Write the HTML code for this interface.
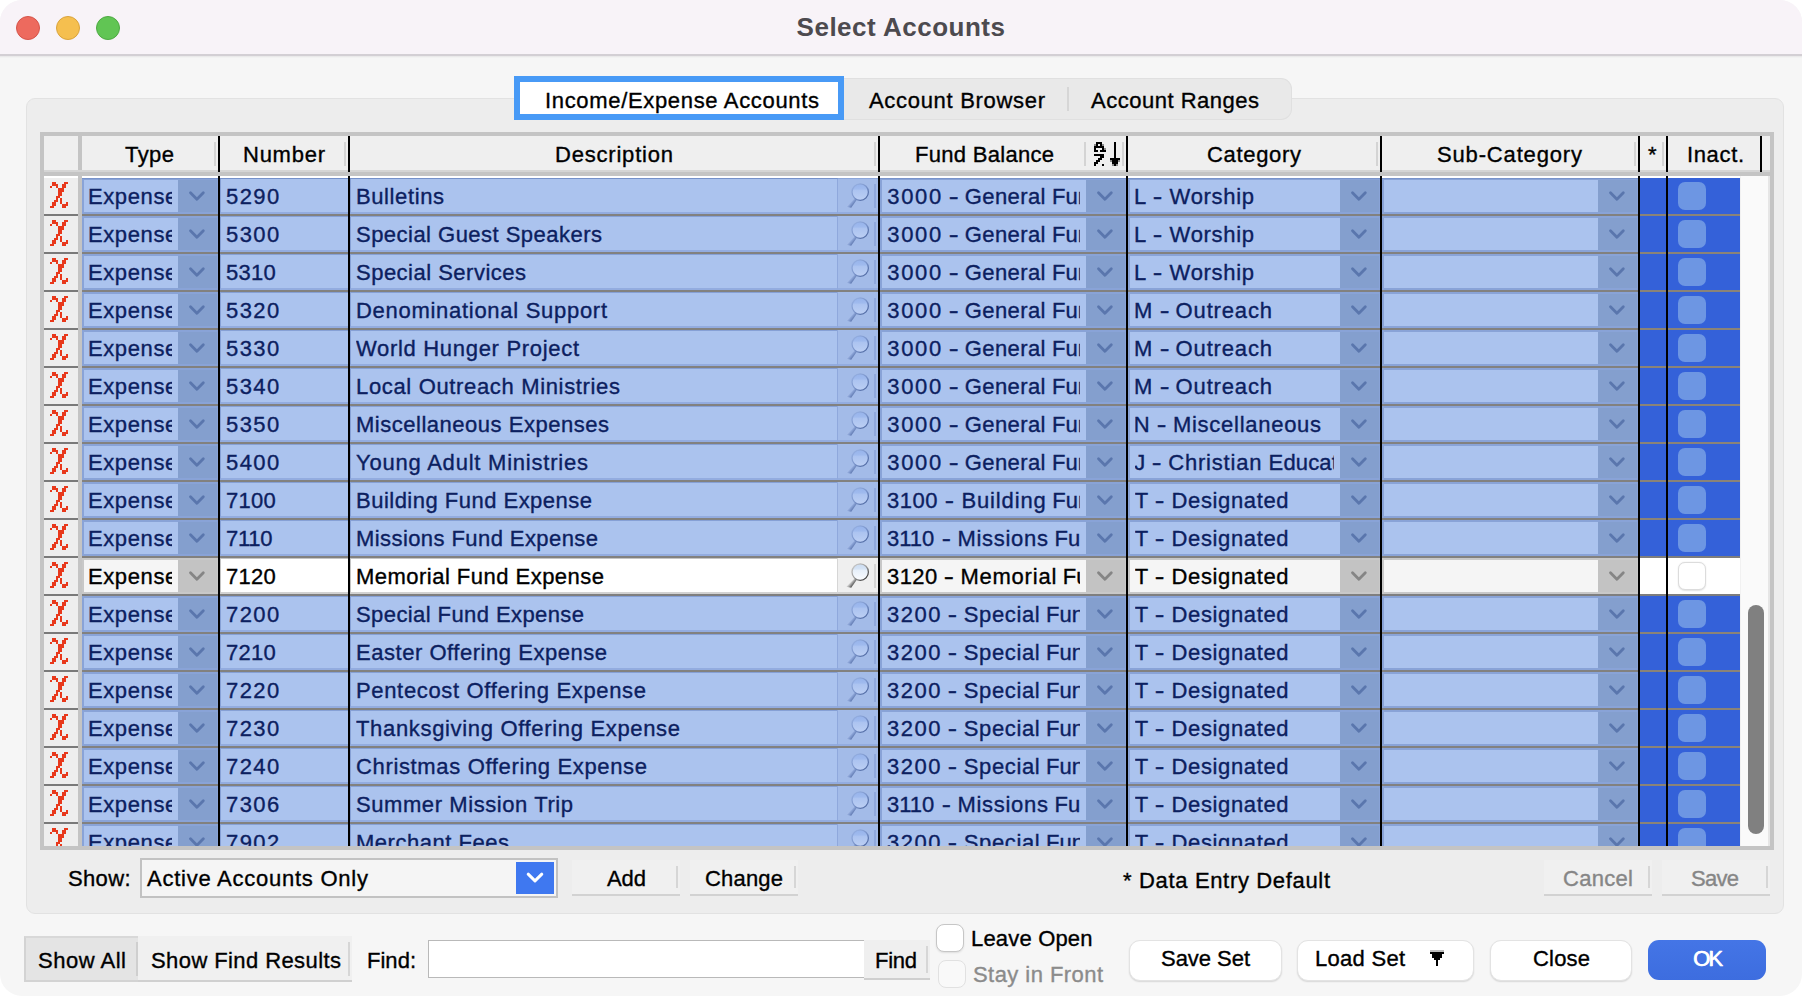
<!DOCTYPE html><html><head><meta charset="utf-8"><title>Select Accounts</title><style>
*{box-sizing:border-box;margin:0;padding:0}
html,body{width:1802px;height:996px;overflow:hidden;background:#fff}
body{font-family:"Liberation Sans",sans-serif;font-size:22px;color:#000;position:relative;-webkit-text-stroke:0.35px}
.abs,.abs *{position:absolute}
#win{position:absolute;left:0;top:0;width:1802px;height:996px;background:#f6f6f6;border-radius:22px;overflow:hidden}
#tb{position:absolute;left:0;top:0;width:1802px;height:54px;background:#f8f3f8}
#tbl{position:absolute;left:0;top:54px;width:1802px;height:2px;background:#d3cfd4}
#tbs{position:absolute;left:0;top:56px;width:1802px;height:2px;background:linear-gradient(#e6e5e6,#f6f6f6)}
.tl{position:absolute;top:16px;width:24px;height:24px;border-radius:50%}
#title{position:absolute;left:0;width:1802px;top:11px;text-align:center;font-weight:bold;font-size:26px;color:#4d4a4f;line-height:32px;letter-spacing:0.5px;-webkit-text-stroke:0}
#grp{position:absolute;left:26px;top:98px;width:1758px;height:816px;background:#ededed;border:1px solid #e2e2e2;border-radius:9px}
.t{position:absolute;white-space:nowrap;line-height:26px;height:26px}
#table{position:absolute;left:40px;top:132px;width:1734px;height:718px;background:#c4c4c4}
#tin{position:absolute;left:4px;top:4px;width:1726px;height:710px;overflow:hidden;background:#fff}
.hd{position:absolute;top:0;height:36px;background:#efefef}
.hdiv{position:absolute;top:6px;width:2px;height:24px;background:#d4d4d4}
.vl{position:absolute;width:2px;background:#000}
.row{position:absolute;left:0;width:1726px;height:38px}
.row>div{position:absolute}
.c{overflow:hidden;white-space:nowrap;line-height:26px;font-size:22px}

.xi{position:absolute;left:6px;top:4px}
.xc{left:0;top:0;width:34px;height:36px;background:#eeeeee}
.ln{left:0;top:36px;height:2px}
</style></head><body>
<div id="win">
<div id="tb"></div><div id="tbl"></div><div id="tbs"></div>
<div class="tl" style="left:16px;background:#ed6a5e;border:1px solid #d5544a"></div>
<div class="tl" style="left:56px;background:#f5bf4f;border:1px solid #d9a33c"></div>
<div class="tl" style="left:96px;background:#61c554;border:1px solid #4ea943"></div>
<div id="title">Select Accounts</div>
<div id="grp"></div>
<div style="position:absolute;left:840px;top:78px;width:452px;height:42px;background:#e9e9e9;border:1px solid #e0e0e0;border-left:none;border-radius:0 11px 11px 0"></div>
<div style="position:absolute;left:1067px;top:87px;width:2px;height:24px;background:#d6d6d6"></div>
<div style="position:absolute;left:514px;top:76px;width:330px;height:44px;background:#fff;border:6px solid #489af6"></div>
<div class="t" style="left:545px;top:88px;letter-spacing:0.67px;">Income/Expense Accounts</div>
<div class="t" style="left:869px;top:88px;letter-spacing:0.693px;">Account Browser</div>
<div class="t" style="left:1091px;top:88px;letter-spacing:0.505px;">Account Ranges</div>
<div id="table"><div id="tin">
<div class="hd" style="left:0;width:34px"></div>
<div class="hd" style="left:38px;width:1688px"></div>
<div style="position:absolute;left:34px;top:0;width:4px;height:710px;background:#c4c4c4"></div>
<div style="position:absolute;left:0;top:34px;width:1726px;height:2px;background:#d5d5d5"></div>
<div style="position:absolute;left:0;top:36px;width:1726px;height:4px;background:#c4c4c4"></div>
<div style="position:absolute;left:1696px;top:40px;width:30px;height:670px;background:#fafafa;border-left:1px solid #f1f1f1;border-right:2px solid #e6e6e6"></div>
<div style="position:absolute;left:1704px;top:469px;width:16px;height:229px;background:#808080;border-radius:8px"></div>
<div class="hdiv" style="left:170px"></div>
<div class="hdiv" style="left:300px"></div>
<div class="hdiv" style="left:830px"></div>
<div class="hdiv" style="left:1040px"></div>
<div class="hdiv" style="left:1078px"></div>
<div class="hdiv" style="left:1332px"></div>
<div class="hdiv" style="left:1590px"></div>
<div class="hdiv" style="left:1618px"></div>
<div class="t" style="left:81px;top:6px;letter-spacing:0.434px;">Type</div>
<div class="t" style="left:199px;top:6px;letter-spacing:0.75px;">Number</div>
<div class="t" style="left:511px;top:6px;letter-spacing:0.795px;">Description</div>
<div class="t" style="left:871px;top:6px;letter-spacing:0.294px;">Fund Balance</div>
<div class="t" style="left:1163px;top:6px;letter-spacing:0.676px;">Category</div>
<div class="t" style="left:1393px;top:6px;letter-spacing:0.842px;">Sub-Category</div>
<div class="t" style="left:1643px;top:6px;letter-spacing:0.638px;">Inact.</div>
<div class="t" style="left:1604px;top:6px;">*</div>
<svg style="position:absolute;left:1050px;top:6px" width="28" height="26" viewBox="0 0 28 26" shape-rendering="crispEdges"><g fill="#000"><rect x="2" y="0" width="2" height="2"/><rect x="4" y="0" width="2" height="2"/><rect x="6" y="0" width="2" height="2"/><rect x="20" y="0" width="2" height="2"/><rect x="0" y="2" width="2" height="2" fill="#8c8c8c"/><rect x="2" y="2" width="2" height="2"/><rect x="6" y="2" width="2" height="2"/><rect x="8" y="2" width="2" height="2" fill="#8c8c8c"/><rect x="20" y="2" width="2" height="2"/><rect x="0" y="4" width="2" height="2"/><rect x="2" y="4" width="2" height="2"/><rect x="4" y="4" width="2" height="2"/><rect x="6" y="4" width="2" height="2"/><rect x="8" y="4" width="2" height="2"/><rect x="20" y="4" width="2" height="2"/><rect x="0" y="6" width="2" height="2"/><rect x="8" y="6" width="2" height="2"/><rect x="10" y="6" width="2" height="2" fill="#8c8c8c"/><rect x="20" y="6" width="2" height="2"/><rect x="0" y="8" width="2" height="2"/><rect x="2" y="8" width="2" height="2"/><rect x="6" y="8" width="2" height="2"/><rect x="8" y="8" width="2" height="2"/><rect x="10" y="8" width="2" height="2"/><rect x="20" y="8" width="2" height="2"/><rect x="20" y="10" width="2" height="2"/><rect x="0" y="12" width="2" height="2"/><rect x="2" y="12" width="2" height="2"/><rect x="4" y="12" width="2" height="2"/><rect x="6" y="12" width="2" height="2"/><rect x="8" y="12" width="2" height="2"/><rect x="20" y="12" width="2" height="2"/><rect x="6" y="14" width="2" height="2"/><rect x="8" y="14" width="2" height="2"/><rect x="20" y="14" width="2" height="2"/><rect x="4" y="16" width="2" height="2"/><rect x="6" y="16" width="2" height="2"/><rect x="16" y="16" width="2" height="2"/><rect x="18" y="16" width="2" height="2"/><rect x="20" y="16" width="2" height="2"/><rect x="22" y="16" width="2" height="2"/><rect x="24" y="16" width="2" height="2"/><rect x="2" y="18" width="2" height="2"/><rect x="4" y="18" width="2" height="2"/><rect x="16" y="18" width="2" height="2" fill="#8c8c8c"/><rect x="18" y="18" width="2" height="2"/><rect x="20" y="18" width="2" height="2"/><rect x="22" y="18" width="2" height="2"/><rect x="24" y="18" width="2" height="2" fill="#8c8c8c"/><rect x="0" y="20" width="2" height="2"/><rect x="2" y="20" width="2" height="2"/><rect x="18" y="20" width="2" height="2"/><rect x="20" y="20" width="2" height="2"/><rect x="22" y="20" width="2" height="2"/><rect x="0" y="22" width="2" height="2"/><rect x="8" y="22" width="2" height="2"/><rect x="18" y="22" width="2" height="2" fill="#8c8c8c"/><rect x="20" y="22" width="2" height="2"/><rect x="22" y="22" width="2" height="2" fill="#8c8c8c"/></g></svg><svg width="0" height="0" style="position:absolute"><defs><linearGradient id="rims" x1="0.15" y1="0.1" x2="0.85" y2="0.9"><stop offset="0" stop-color="#93addf"/><stop offset="0.5" stop-color="#7b95cb"/><stop offset="1" stop-color="#506aa3"/></linearGradient><linearGradient id="lenss" x1="0" y1="0" x2="0" y2="1"><stop offset="0" stop-color="#96b3eb"/><stop offset="0.33" stop-color="#a0bbee"/><stop offset="0.36" stop-color="#abc3f0"/><stop offset="1" stop-color="#bccff4"/></linearGradient><linearGradient id="hnds" x1="0.25" y1="0.3" x2="0.75" y2="0.7"><stop offset="0" stop-color="#cddaf6"/><stop offset="0.45" stop-color="#90a9db"/><stop offset="1" stop-color="#566fa8"/></linearGradient><linearGradient id="rimu" x1="0.15" y1="0.1" x2="0.85" y2="0.9"><stop offset="0" stop-color="#c4c4c4"/><stop offset="0.5" stop-color="#9a9a9a"/><stop offset="1" stop-color="#3c3c3c"/></linearGradient><linearGradient id="lensu" x1="0" y1="0" x2="0" y2="1"><stop offset="0" stop-color="#cbdcf1"/><stop offset="0.33" stop-color="#d6e4f5"/><stop offset="0.36" stop-color="#e6eff9"/><stop offset="1" stop-color="#fbfcfe"/></linearGradient><linearGradient id="hndu" x1="0.25" y1="0.3" x2="0.75" y2="0.7"><stop offset="0" stop-color="#f4f4f4"/><stop offset="0.45" stop-color="#bdbdbd"/><stop offset="1" stop-color="#3a3a3a"/></linearGradient></defs></svg>
<div class="row" style="top:42px"><div class="xc"><svg class="xi" width="18" height="26" viewBox="0 0 18 26" shape-rendering="crispEdges"><g fill="#e8381b"><rect x="2" y="0" width="4" height="2"/><rect x="14" y="0" width="4" height="2"/><rect x="2" y="2" width="6" height="2"/><rect x="12" y="2" width="4" height="2"/><rect x="0" y="4" width="2" height="2"/><rect x="6" y="4" width="2" height="2"/><rect x="12" y="4" width="4" height="2"/><rect x="8" y="6" width="6" height="2"/><rect x="8" y="8" width="6" height="2"/><rect x="8" y="10" width="4" height="2"/><rect x="8" y="12" width="4" height="2"/><rect x="6" y="14" width="4" height="2"/><rect x="6" y="16" width="2" height="2"/><rect x="10" y="16" width="2" height="2"/><rect x="4" y="18" width="4" height="2"/><rect x="10" y="18" width="2" height="2"/><rect x="2" y="20" width="4" height="2"/><rect x="10" y="20" width="2" height="2"/><rect x="16" y="20" width="2" height="2"/><rect x="2" y="22" width="4" height="2"/><rect x="12" y="22" width="6" height="2"/><rect x="0" y="24" width="4" height="2"/><rect x="12" y="24" width="4" height="2"/></g></svg></div><div class="ln" style="width:34px;background:#7a7a7a"></div><div class="ln" style="left:38px;width:1556px;background:#82817f"></div><div style="left:38px;top:0;width:136px;height:36px;background:#89a3d7"><div style="position:absolute;left:96px;top:2px;width:39px;height:32px;background:#849fce"></div><div style="position:absolute;left:2px;top:2px;width:94px;height:32px;background:#abc3ee"></div><div class="c" style="position:absolute;left:6px;top:6px;width:84px;height:26px;color:#0c2060;letter-spacing:0.6px">Expense</div><svg style="position:absolute;left:105px;top:8px" width="20" height="20" viewBox="0 0 20 20"><path d="M3.5 6.8 L9.9 13.3 L16.3 6.8" fill="none" stroke="#5a76ad" stroke-width="2.8" stroke-linecap="round" stroke-linejoin="round"/></svg></div><div style="left:176px;top:0;width:128px;height:36px;background:#abc3ee;border-bottom:2px solid #93acdf;border-top:1px solid #86a0d5;border-left:1px solid #86a0d5"></div><div class="c" style="left:182px;top:6px;width:110px;height:26px;color:#0c2060;letter-spacing:1.419px">5290</div><div style="left:306px;top:0;width:487px;height:36px;background:#abc3ee;border-bottom:2px solid #93acdf;border-top:1px solid #86a0d5;border-left:1px solid #86a0d5"></div><div class="c" style="left:312px;top:6px;width:478px;height:26px;color:#0c2060;letter-spacing:0.605px">Bulletins</div><div style="left:793px;top:0;width:41px;height:36px;background:#a3bbe8;border-left:1px solid #8fa8dc;border-bottom:2px solid #93acdf"><div style="position:absolute;left:36px;top:6px;width:2px;height:24px;background:#8fa8dc"></div><svg style="position:absolute;left:5px;top:2px" width="32" height="32" viewBox="0 0 32 32"><polygon points="12.1,17.9 13.9,19.5 8.2,27.8 3.4,26.8" fill="url(#hnds)"/><circle cx="17.2" cy="12.1" r="8.2" fill="url(#lenss)" stroke="url(#rims)" stroke-width="1.3"/></svg></div><div style="left:836px;top:0;width:246px;height:36px;background:#89a3d7"><div style="position:absolute;left:206px;top:2px;width:39px;height:32px;background:#849fce"></div><div style="position:absolute;left:2px;top:2px;width:204px;height:32px;background:#abc3ee"></div><div class="c" style="position:absolute;left:7px;top:6px;width:193px;height:26px;color:#0c2060;letter-spacing:0px"><span style="position:absolute;left:0.2px;top:0;letter-spacing:1.719px;">3000 </span><span style="position:absolute;left:61.9px;top:0;letter-spacing:0px;transform-origin:0.7px 50%;transform:scaleX(1.350);">- </span><span style="position:absolute;left:77.8px;top:0;letter-spacing:0.405px;">General </span><span style="position:absolute;left:164.9px;top:0;letter-spacing:0.05px;">Fund</span></div><svg style="position:absolute;left:215px;top:8px" width="20" height="20" viewBox="0 0 20 20"><path d="M3.5 6.8 L9.9 13.3 L16.3 6.8" fill="none" stroke="#5a76ad" stroke-width="2.8" stroke-linecap="round" stroke-linejoin="round"/></svg></div><div style="left:1084px;top:0;width:252px;height:36px;background:#89a3d7"><div style="position:absolute;left:212px;top:2px;width:39px;height:32px;background:#849fce"></div><div style="position:absolute;left:2px;top:2px;width:210px;height:32px;background:#abc3ee"></div><div class="c" style="position:absolute;left:7px;top:6px;width:199px;height:26px;color:#0c2060;letter-spacing:0px"><span style="position:absolute;left:-0.9px;top:0;letter-spacing:0px;">L </span><span style="position:absolute;left:18.2px;top:0;letter-spacing:0px;transform-origin:0.7px 50%;transform:scaleX(1.300);">- </span><span style="position:absolute;left:34.6px;top:0;letter-spacing:0.685px;">Worship </span></div><svg style="position:absolute;left:221px;top:8px" width="20" height="20" viewBox="0 0 20 20"><path d="M3.5 6.8 L9.9 13.3 L16.3 6.8" fill="none" stroke="#5a76ad" stroke-width="2.8" stroke-linecap="round" stroke-linejoin="round"/></svg></div><div style="left:1338px;top:0;width:256px;height:36px;background:#89a3d7"><div style="position:absolute;left:216px;top:2px;width:39px;height:32px;background:#849fce"></div><div style="position:absolute;left:2px;top:2px;width:214px;height:32px;background:#abc3ee"></div><svg style="position:absolute;left:225px;top:8px" width="20" height="20" viewBox="0 0 20 20"><path d="M3.5 6.8 L9.9 13.3 L16.3 6.8" fill="none" stroke="#5a76ad" stroke-width="2.8" stroke-linecap="round" stroke-linejoin="round"/></svg></div><div style="left:1596px;top:0;width:26px;height:36px;background:#3461d9"></div><div style="left:1624px;top:0;width:72px;height:36px;background:#3461d9"><div style="position:absolute;left:10px;top:4px;width:28px;height:28px;border-radius:7px;background:#6d96e3"></div></div><div class="ln" style="left:1596px;width:100px;background:#8a8378"></div></div>
<div class="row" style="top:80px"><div class="xc"><svg class="xi" width="18" height="26" viewBox="0 0 18 26" shape-rendering="crispEdges"><g fill="#e8381b"><rect x="2" y="0" width="4" height="2"/><rect x="14" y="0" width="4" height="2"/><rect x="2" y="2" width="6" height="2"/><rect x="12" y="2" width="4" height="2"/><rect x="0" y="4" width="2" height="2"/><rect x="6" y="4" width="2" height="2"/><rect x="12" y="4" width="4" height="2"/><rect x="8" y="6" width="6" height="2"/><rect x="8" y="8" width="6" height="2"/><rect x="8" y="10" width="4" height="2"/><rect x="8" y="12" width="4" height="2"/><rect x="6" y="14" width="4" height="2"/><rect x="6" y="16" width="2" height="2"/><rect x="10" y="16" width="2" height="2"/><rect x="4" y="18" width="4" height="2"/><rect x="10" y="18" width="2" height="2"/><rect x="2" y="20" width="4" height="2"/><rect x="10" y="20" width="2" height="2"/><rect x="16" y="20" width="2" height="2"/><rect x="2" y="22" width="4" height="2"/><rect x="12" y="22" width="6" height="2"/><rect x="0" y="24" width="4" height="2"/><rect x="12" y="24" width="4" height="2"/></g></svg></div><div class="ln" style="width:34px;background:#7a7a7a"></div><div class="ln" style="left:38px;width:1556px;background:#82817f"></div><div style="left:38px;top:0;width:136px;height:36px;background:#89a3d7"><div style="position:absolute;left:96px;top:2px;width:39px;height:32px;background:#849fce"></div><div style="position:absolute;left:2px;top:2px;width:94px;height:32px;background:#abc3ee"></div><div class="c" style="position:absolute;left:6px;top:6px;width:84px;height:26px;color:#0c2060;letter-spacing:0.6px">Expense</div><svg style="position:absolute;left:105px;top:8px" width="20" height="20" viewBox="0 0 20 20"><path d="M3.5 6.8 L9.9 13.3 L16.3 6.8" fill="none" stroke="#5a76ad" stroke-width="2.8" stroke-linecap="round" stroke-linejoin="round"/></svg></div><div style="left:176px;top:0;width:128px;height:36px;background:#abc3ee;border-bottom:2px solid #93acdf;border-top:1px solid #86a0d5;border-left:1px solid #86a0d5"></div><div class="c" style="left:182px;top:6px;width:110px;height:26px;color:#0c2060;letter-spacing:1.419px">5300</div><div style="left:306px;top:0;width:487px;height:36px;background:#abc3ee;border-bottom:2px solid #93acdf;border-top:1px solid #86a0d5;border-left:1px solid #86a0d5"></div><div class="c" style="left:312px;top:6px;width:478px;height:26px;color:#0c2060;letter-spacing:0.475px">Special Guest Speakers</div><div style="left:793px;top:0;width:41px;height:36px;background:#a3bbe8;border-left:1px solid #8fa8dc;border-bottom:2px solid #93acdf"><div style="position:absolute;left:36px;top:6px;width:2px;height:24px;background:#8fa8dc"></div><svg style="position:absolute;left:5px;top:2px" width="32" height="32" viewBox="0 0 32 32"><polygon points="12.1,17.9 13.9,19.5 8.2,27.8 3.4,26.8" fill="url(#hnds)"/><circle cx="17.2" cy="12.1" r="8.2" fill="url(#lenss)" stroke="url(#rims)" stroke-width="1.3"/></svg></div><div style="left:836px;top:0;width:246px;height:36px;background:#89a3d7"><div style="position:absolute;left:206px;top:2px;width:39px;height:32px;background:#849fce"></div><div style="position:absolute;left:2px;top:2px;width:204px;height:32px;background:#abc3ee"></div><div class="c" style="position:absolute;left:7px;top:6px;width:193px;height:26px;color:#0c2060;letter-spacing:0px"><span style="position:absolute;left:0.2px;top:0;letter-spacing:1.719px;">3000 </span><span style="position:absolute;left:61.9px;top:0;letter-spacing:0px;transform-origin:0.7px 50%;transform:scaleX(1.350);">- </span><span style="position:absolute;left:77.8px;top:0;letter-spacing:0.405px;">General </span><span style="position:absolute;left:164.9px;top:0;letter-spacing:0.05px;">Fund</span></div><svg style="position:absolute;left:215px;top:8px" width="20" height="20" viewBox="0 0 20 20"><path d="M3.5 6.8 L9.9 13.3 L16.3 6.8" fill="none" stroke="#5a76ad" stroke-width="2.8" stroke-linecap="round" stroke-linejoin="round"/></svg></div><div style="left:1084px;top:0;width:252px;height:36px;background:#89a3d7"><div style="position:absolute;left:212px;top:2px;width:39px;height:32px;background:#849fce"></div><div style="position:absolute;left:2px;top:2px;width:210px;height:32px;background:#abc3ee"></div><div class="c" style="position:absolute;left:7px;top:6px;width:199px;height:26px;color:#0c2060;letter-spacing:0px"><span style="position:absolute;left:-0.9px;top:0;letter-spacing:0px;">L </span><span style="position:absolute;left:18.2px;top:0;letter-spacing:0px;transform-origin:0.7px 50%;transform:scaleX(1.300);">- </span><span style="position:absolute;left:34.6px;top:0;letter-spacing:0.685px;">Worship </span></div><svg style="position:absolute;left:221px;top:8px" width="20" height="20" viewBox="0 0 20 20"><path d="M3.5 6.8 L9.9 13.3 L16.3 6.8" fill="none" stroke="#5a76ad" stroke-width="2.8" stroke-linecap="round" stroke-linejoin="round"/></svg></div><div style="left:1338px;top:0;width:256px;height:36px;background:#89a3d7"><div style="position:absolute;left:216px;top:2px;width:39px;height:32px;background:#849fce"></div><div style="position:absolute;left:2px;top:2px;width:214px;height:32px;background:#abc3ee"></div><svg style="position:absolute;left:225px;top:8px" width="20" height="20" viewBox="0 0 20 20"><path d="M3.5 6.8 L9.9 13.3 L16.3 6.8" fill="none" stroke="#5a76ad" stroke-width="2.8" stroke-linecap="round" stroke-linejoin="round"/></svg></div><div style="left:1596px;top:0;width:26px;height:36px;background:#3461d9"></div><div style="left:1624px;top:0;width:72px;height:36px;background:#3461d9"><div style="position:absolute;left:10px;top:4px;width:28px;height:28px;border-radius:7px;background:#6d96e3"></div></div><div class="ln" style="left:1596px;width:100px;background:#8a8378"></div></div>
<div class="row" style="top:118px"><div class="xc"><svg class="xi" width="18" height="26" viewBox="0 0 18 26" shape-rendering="crispEdges"><g fill="#e8381b"><rect x="2" y="0" width="4" height="2"/><rect x="14" y="0" width="4" height="2"/><rect x="2" y="2" width="6" height="2"/><rect x="12" y="2" width="4" height="2"/><rect x="0" y="4" width="2" height="2"/><rect x="6" y="4" width="2" height="2"/><rect x="12" y="4" width="4" height="2"/><rect x="8" y="6" width="6" height="2"/><rect x="8" y="8" width="6" height="2"/><rect x="8" y="10" width="4" height="2"/><rect x="8" y="12" width="4" height="2"/><rect x="6" y="14" width="4" height="2"/><rect x="6" y="16" width="2" height="2"/><rect x="10" y="16" width="2" height="2"/><rect x="4" y="18" width="4" height="2"/><rect x="10" y="18" width="2" height="2"/><rect x="2" y="20" width="4" height="2"/><rect x="10" y="20" width="2" height="2"/><rect x="16" y="20" width="2" height="2"/><rect x="2" y="22" width="4" height="2"/><rect x="12" y="22" width="6" height="2"/><rect x="0" y="24" width="4" height="2"/><rect x="12" y="24" width="4" height="2"/></g></svg></div><div class="ln" style="width:34px;background:#7a7a7a"></div><div class="ln" style="left:38px;width:1556px;background:#82817f"></div><div style="left:38px;top:0;width:136px;height:36px;background:#89a3d7"><div style="position:absolute;left:96px;top:2px;width:39px;height:32px;background:#849fce"></div><div style="position:absolute;left:2px;top:2px;width:94px;height:32px;background:#abc3ee"></div><div class="c" style="position:absolute;left:6px;top:6px;width:84px;height:26px;color:#0c2060;letter-spacing:0.6px">Expense</div><svg style="position:absolute;left:105px;top:8px" width="20" height="20" viewBox="0 0 20 20"><path d="M3.5 6.8 L9.9 13.3 L16.3 6.8" fill="none" stroke="#5a76ad" stroke-width="2.8" stroke-linecap="round" stroke-linejoin="round"/></svg></div><div style="left:176px;top:0;width:128px;height:36px;background:#abc3ee;border-bottom:2px solid #93acdf;border-top:1px solid #86a0d5;border-left:1px solid #86a0d5"></div><div class="c" style="left:182px;top:6px;width:110px;height:26px;color:#0c2060;letter-spacing:0.285px">5310</div><div style="left:306px;top:0;width:487px;height:36px;background:#abc3ee;border-bottom:2px solid #93acdf;border-top:1px solid #86a0d5;border-left:1px solid #86a0d5"></div><div class="c" style="left:312px;top:6px;width:478px;height:26px;color:#0c2060;letter-spacing:0.491px">Special Services</div><div style="left:793px;top:0;width:41px;height:36px;background:#a3bbe8;border-left:1px solid #8fa8dc;border-bottom:2px solid #93acdf"><div style="position:absolute;left:36px;top:6px;width:2px;height:24px;background:#8fa8dc"></div><svg style="position:absolute;left:5px;top:2px" width="32" height="32" viewBox="0 0 32 32"><polygon points="12.1,17.9 13.9,19.5 8.2,27.8 3.4,26.8" fill="url(#hnds)"/><circle cx="17.2" cy="12.1" r="8.2" fill="url(#lenss)" stroke="url(#rims)" stroke-width="1.3"/></svg></div><div style="left:836px;top:0;width:246px;height:36px;background:#89a3d7"><div style="position:absolute;left:206px;top:2px;width:39px;height:32px;background:#849fce"></div><div style="position:absolute;left:2px;top:2px;width:204px;height:32px;background:#abc3ee"></div><div class="c" style="position:absolute;left:7px;top:6px;width:193px;height:26px;color:#0c2060;letter-spacing:0px"><span style="position:absolute;left:0.2px;top:0;letter-spacing:1.719px;">3000 </span><span style="position:absolute;left:61.9px;top:0;letter-spacing:0px;transform-origin:0.7px 50%;transform:scaleX(1.350);">- </span><span style="position:absolute;left:77.8px;top:0;letter-spacing:0.405px;">General </span><span style="position:absolute;left:164.9px;top:0;letter-spacing:0.05px;">Fund</span></div><svg style="position:absolute;left:215px;top:8px" width="20" height="20" viewBox="0 0 20 20"><path d="M3.5 6.8 L9.9 13.3 L16.3 6.8" fill="none" stroke="#5a76ad" stroke-width="2.8" stroke-linecap="round" stroke-linejoin="round"/></svg></div><div style="left:1084px;top:0;width:252px;height:36px;background:#89a3d7"><div style="position:absolute;left:212px;top:2px;width:39px;height:32px;background:#849fce"></div><div style="position:absolute;left:2px;top:2px;width:210px;height:32px;background:#abc3ee"></div><div class="c" style="position:absolute;left:7px;top:6px;width:199px;height:26px;color:#0c2060;letter-spacing:0px"><span style="position:absolute;left:-0.9px;top:0;letter-spacing:0px;">L </span><span style="position:absolute;left:18.2px;top:0;letter-spacing:0px;transform-origin:0.7px 50%;transform:scaleX(1.300);">- </span><span style="position:absolute;left:34.6px;top:0;letter-spacing:0.685px;">Worship </span></div><svg style="position:absolute;left:221px;top:8px" width="20" height="20" viewBox="0 0 20 20"><path d="M3.5 6.8 L9.9 13.3 L16.3 6.8" fill="none" stroke="#5a76ad" stroke-width="2.8" stroke-linecap="round" stroke-linejoin="round"/></svg></div><div style="left:1338px;top:0;width:256px;height:36px;background:#89a3d7"><div style="position:absolute;left:216px;top:2px;width:39px;height:32px;background:#849fce"></div><div style="position:absolute;left:2px;top:2px;width:214px;height:32px;background:#abc3ee"></div><svg style="position:absolute;left:225px;top:8px" width="20" height="20" viewBox="0 0 20 20"><path d="M3.5 6.8 L9.9 13.3 L16.3 6.8" fill="none" stroke="#5a76ad" stroke-width="2.8" stroke-linecap="round" stroke-linejoin="round"/></svg></div><div style="left:1596px;top:0;width:26px;height:36px;background:#3461d9"></div><div style="left:1624px;top:0;width:72px;height:36px;background:#3461d9"><div style="position:absolute;left:10px;top:4px;width:28px;height:28px;border-radius:7px;background:#6d96e3"></div></div><div class="ln" style="left:1596px;width:100px;background:#8a8378"></div></div>
<div class="row" style="top:156px"><div class="xc"><svg class="xi" width="18" height="26" viewBox="0 0 18 26" shape-rendering="crispEdges"><g fill="#e8381b"><rect x="2" y="0" width="4" height="2"/><rect x="14" y="0" width="4" height="2"/><rect x="2" y="2" width="6" height="2"/><rect x="12" y="2" width="4" height="2"/><rect x="0" y="4" width="2" height="2"/><rect x="6" y="4" width="2" height="2"/><rect x="12" y="4" width="4" height="2"/><rect x="8" y="6" width="6" height="2"/><rect x="8" y="8" width="6" height="2"/><rect x="8" y="10" width="4" height="2"/><rect x="8" y="12" width="4" height="2"/><rect x="6" y="14" width="4" height="2"/><rect x="6" y="16" width="2" height="2"/><rect x="10" y="16" width="2" height="2"/><rect x="4" y="18" width="4" height="2"/><rect x="10" y="18" width="2" height="2"/><rect x="2" y="20" width="4" height="2"/><rect x="10" y="20" width="2" height="2"/><rect x="16" y="20" width="2" height="2"/><rect x="2" y="22" width="4" height="2"/><rect x="12" y="22" width="6" height="2"/><rect x="0" y="24" width="4" height="2"/><rect x="12" y="24" width="4" height="2"/></g></svg></div><div class="ln" style="width:34px;background:#7a7a7a"></div><div class="ln" style="left:38px;width:1556px;background:#82817f"></div><div style="left:38px;top:0;width:136px;height:36px;background:#89a3d7"><div style="position:absolute;left:96px;top:2px;width:39px;height:32px;background:#849fce"></div><div style="position:absolute;left:2px;top:2px;width:94px;height:32px;background:#abc3ee"></div><div class="c" style="position:absolute;left:6px;top:6px;width:84px;height:26px;color:#0c2060;letter-spacing:0.6px">Expense</div><svg style="position:absolute;left:105px;top:8px" width="20" height="20" viewBox="0 0 20 20"><path d="M3.5 6.8 L9.9 13.3 L16.3 6.8" fill="none" stroke="#5a76ad" stroke-width="2.8" stroke-linecap="round" stroke-linejoin="round"/></svg></div><div style="left:176px;top:0;width:128px;height:36px;background:#abc3ee;border-bottom:2px solid #93acdf;border-top:1px solid #86a0d5;border-left:1px solid #86a0d5"></div><div class="c" style="left:182px;top:6px;width:110px;height:26px;color:#0c2060;letter-spacing:1.419px">5320</div><div style="left:306px;top:0;width:487px;height:36px;background:#abc3ee;border-bottom:2px solid #93acdf;border-top:1px solid #86a0d5;border-left:1px solid #86a0d5"></div><div class="c" style="left:312px;top:6px;width:478px;height:26px;color:#0c2060;letter-spacing:0.712px">Denominational Support</div><div style="left:793px;top:0;width:41px;height:36px;background:#a3bbe8;border-left:1px solid #8fa8dc;border-bottom:2px solid #93acdf"><div style="position:absolute;left:36px;top:6px;width:2px;height:24px;background:#8fa8dc"></div><svg style="position:absolute;left:5px;top:2px" width="32" height="32" viewBox="0 0 32 32"><polygon points="12.1,17.9 13.9,19.5 8.2,27.8 3.4,26.8" fill="url(#hnds)"/><circle cx="17.2" cy="12.1" r="8.2" fill="url(#lenss)" stroke="url(#rims)" stroke-width="1.3"/></svg></div><div style="left:836px;top:0;width:246px;height:36px;background:#89a3d7"><div style="position:absolute;left:206px;top:2px;width:39px;height:32px;background:#849fce"></div><div style="position:absolute;left:2px;top:2px;width:204px;height:32px;background:#abc3ee"></div><div class="c" style="position:absolute;left:7px;top:6px;width:193px;height:26px;color:#0c2060;letter-spacing:0px"><span style="position:absolute;left:0.2px;top:0;letter-spacing:1.719px;">3000 </span><span style="position:absolute;left:61.9px;top:0;letter-spacing:0px;transform-origin:0.7px 50%;transform:scaleX(1.350);">- </span><span style="position:absolute;left:77.8px;top:0;letter-spacing:0.405px;">General </span><span style="position:absolute;left:164.9px;top:0;letter-spacing:0.05px;">Fund</span></div><svg style="position:absolute;left:215px;top:8px" width="20" height="20" viewBox="0 0 20 20"><path d="M3.5 6.8 L9.9 13.3 L16.3 6.8" fill="none" stroke="#5a76ad" stroke-width="2.8" stroke-linecap="round" stroke-linejoin="round"/></svg></div><div style="left:1084px;top:0;width:252px;height:36px;background:#89a3d7"><div style="position:absolute;left:212px;top:2px;width:39px;height:32px;background:#849fce"></div><div style="position:absolute;left:2px;top:2px;width:210px;height:32px;background:#abc3ee"></div><div class="c" style="position:absolute;left:7px;top:6px;width:199px;height:26px;color:#0c2060;letter-spacing:0px"><span style="position:absolute;left:-0.9px;top:0;letter-spacing:0px;">M </span><span style="position:absolute;left:24.6px;top:0;letter-spacing:0px;transform-origin:0.7px 50%;transform:scaleX(1.333);">- </span><span style="position:absolute;left:40.6px;top:0;letter-spacing:0.844px;">Outreach </span></div><svg style="position:absolute;left:221px;top:8px" width="20" height="20" viewBox="0 0 20 20"><path d="M3.5 6.8 L9.9 13.3 L16.3 6.8" fill="none" stroke="#5a76ad" stroke-width="2.8" stroke-linecap="round" stroke-linejoin="round"/></svg></div><div style="left:1338px;top:0;width:256px;height:36px;background:#89a3d7"><div style="position:absolute;left:216px;top:2px;width:39px;height:32px;background:#849fce"></div><div style="position:absolute;left:2px;top:2px;width:214px;height:32px;background:#abc3ee"></div><svg style="position:absolute;left:225px;top:8px" width="20" height="20" viewBox="0 0 20 20"><path d="M3.5 6.8 L9.9 13.3 L16.3 6.8" fill="none" stroke="#5a76ad" stroke-width="2.8" stroke-linecap="round" stroke-linejoin="round"/></svg></div><div style="left:1596px;top:0;width:26px;height:36px;background:#3461d9"></div><div style="left:1624px;top:0;width:72px;height:36px;background:#3461d9"><div style="position:absolute;left:10px;top:4px;width:28px;height:28px;border-radius:7px;background:#6d96e3"></div></div><div class="ln" style="left:1596px;width:100px;background:#8a8378"></div></div>
<div class="row" style="top:194px"><div class="xc"><svg class="xi" width="18" height="26" viewBox="0 0 18 26" shape-rendering="crispEdges"><g fill="#e8381b"><rect x="2" y="0" width="4" height="2"/><rect x="14" y="0" width="4" height="2"/><rect x="2" y="2" width="6" height="2"/><rect x="12" y="2" width="4" height="2"/><rect x="0" y="4" width="2" height="2"/><rect x="6" y="4" width="2" height="2"/><rect x="12" y="4" width="4" height="2"/><rect x="8" y="6" width="6" height="2"/><rect x="8" y="8" width="6" height="2"/><rect x="8" y="10" width="4" height="2"/><rect x="8" y="12" width="4" height="2"/><rect x="6" y="14" width="4" height="2"/><rect x="6" y="16" width="2" height="2"/><rect x="10" y="16" width="2" height="2"/><rect x="4" y="18" width="4" height="2"/><rect x="10" y="18" width="2" height="2"/><rect x="2" y="20" width="4" height="2"/><rect x="10" y="20" width="2" height="2"/><rect x="16" y="20" width="2" height="2"/><rect x="2" y="22" width="4" height="2"/><rect x="12" y="22" width="6" height="2"/><rect x="0" y="24" width="4" height="2"/><rect x="12" y="24" width="4" height="2"/></g></svg></div><div class="ln" style="width:34px;background:#7a7a7a"></div><div class="ln" style="left:38px;width:1556px;background:#82817f"></div><div style="left:38px;top:0;width:136px;height:36px;background:#89a3d7"><div style="position:absolute;left:96px;top:2px;width:39px;height:32px;background:#849fce"></div><div style="position:absolute;left:2px;top:2px;width:94px;height:32px;background:#abc3ee"></div><div class="c" style="position:absolute;left:6px;top:6px;width:84px;height:26px;color:#0c2060;letter-spacing:0.6px">Expense</div><svg style="position:absolute;left:105px;top:8px" width="20" height="20" viewBox="0 0 20 20"><path d="M3.5 6.8 L9.9 13.3 L16.3 6.8" fill="none" stroke="#5a76ad" stroke-width="2.8" stroke-linecap="round" stroke-linejoin="round"/></svg></div><div style="left:176px;top:0;width:128px;height:36px;background:#abc3ee;border-bottom:2px solid #93acdf;border-top:1px solid #86a0d5;border-left:1px solid #86a0d5"></div><div class="c" style="left:182px;top:6px;width:110px;height:26px;color:#0c2060;letter-spacing:1.419px">5330</div><div style="left:306px;top:0;width:487px;height:36px;background:#abc3ee;border-bottom:2px solid #93acdf;border-top:1px solid #86a0d5;border-left:1px solid #86a0d5"></div><div class="c" style="left:312px;top:6px;width:478px;height:26px;color:#0c2060;letter-spacing:0.689px">World Hunger Project</div><div style="left:793px;top:0;width:41px;height:36px;background:#a3bbe8;border-left:1px solid #8fa8dc;border-bottom:2px solid #93acdf"><div style="position:absolute;left:36px;top:6px;width:2px;height:24px;background:#8fa8dc"></div><svg style="position:absolute;left:5px;top:2px" width="32" height="32" viewBox="0 0 32 32"><polygon points="12.1,17.9 13.9,19.5 8.2,27.8 3.4,26.8" fill="url(#hnds)"/><circle cx="17.2" cy="12.1" r="8.2" fill="url(#lenss)" stroke="url(#rims)" stroke-width="1.3"/></svg></div><div style="left:836px;top:0;width:246px;height:36px;background:#89a3d7"><div style="position:absolute;left:206px;top:2px;width:39px;height:32px;background:#849fce"></div><div style="position:absolute;left:2px;top:2px;width:204px;height:32px;background:#abc3ee"></div><div class="c" style="position:absolute;left:7px;top:6px;width:193px;height:26px;color:#0c2060;letter-spacing:0px"><span style="position:absolute;left:0.2px;top:0;letter-spacing:1.719px;">3000 </span><span style="position:absolute;left:61.9px;top:0;letter-spacing:0px;transform-origin:0.7px 50%;transform:scaleX(1.350);">- </span><span style="position:absolute;left:77.8px;top:0;letter-spacing:0.405px;">General </span><span style="position:absolute;left:164.9px;top:0;letter-spacing:0.05px;">Fund</span></div><svg style="position:absolute;left:215px;top:8px" width="20" height="20" viewBox="0 0 20 20"><path d="M3.5 6.8 L9.9 13.3 L16.3 6.8" fill="none" stroke="#5a76ad" stroke-width="2.8" stroke-linecap="round" stroke-linejoin="round"/></svg></div><div style="left:1084px;top:0;width:252px;height:36px;background:#89a3d7"><div style="position:absolute;left:212px;top:2px;width:39px;height:32px;background:#849fce"></div><div style="position:absolute;left:2px;top:2px;width:210px;height:32px;background:#abc3ee"></div><div class="c" style="position:absolute;left:7px;top:6px;width:199px;height:26px;color:#0c2060;letter-spacing:0px"><span style="position:absolute;left:-0.9px;top:0;letter-spacing:0px;">M </span><span style="position:absolute;left:24.6px;top:0;letter-spacing:0px;transform-origin:0.7px 50%;transform:scaleX(1.333);">- </span><span style="position:absolute;left:40.6px;top:0;letter-spacing:0.844px;">Outreach </span></div><svg style="position:absolute;left:221px;top:8px" width="20" height="20" viewBox="0 0 20 20"><path d="M3.5 6.8 L9.9 13.3 L16.3 6.8" fill="none" stroke="#5a76ad" stroke-width="2.8" stroke-linecap="round" stroke-linejoin="round"/></svg></div><div style="left:1338px;top:0;width:256px;height:36px;background:#89a3d7"><div style="position:absolute;left:216px;top:2px;width:39px;height:32px;background:#849fce"></div><div style="position:absolute;left:2px;top:2px;width:214px;height:32px;background:#abc3ee"></div><svg style="position:absolute;left:225px;top:8px" width="20" height="20" viewBox="0 0 20 20"><path d="M3.5 6.8 L9.9 13.3 L16.3 6.8" fill="none" stroke="#5a76ad" stroke-width="2.8" stroke-linecap="round" stroke-linejoin="round"/></svg></div><div style="left:1596px;top:0;width:26px;height:36px;background:#3461d9"></div><div style="left:1624px;top:0;width:72px;height:36px;background:#3461d9"><div style="position:absolute;left:10px;top:4px;width:28px;height:28px;border-radius:7px;background:#6d96e3"></div></div><div class="ln" style="left:1596px;width:100px;background:#8a8378"></div></div>
<div class="row" style="top:232px"><div class="xc"><svg class="xi" width="18" height="26" viewBox="0 0 18 26" shape-rendering="crispEdges"><g fill="#e8381b"><rect x="2" y="0" width="4" height="2"/><rect x="14" y="0" width="4" height="2"/><rect x="2" y="2" width="6" height="2"/><rect x="12" y="2" width="4" height="2"/><rect x="0" y="4" width="2" height="2"/><rect x="6" y="4" width="2" height="2"/><rect x="12" y="4" width="4" height="2"/><rect x="8" y="6" width="6" height="2"/><rect x="8" y="8" width="6" height="2"/><rect x="8" y="10" width="4" height="2"/><rect x="8" y="12" width="4" height="2"/><rect x="6" y="14" width="4" height="2"/><rect x="6" y="16" width="2" height="2"/><rect x="10" y="16" width="2" height="2"/><rect x="4" y="18" width="4" height="2"/><rect x="10" y="18" width="2" height="2"/><rect x="2" y="20" width="4" height="2"/><rect x="10" y="20" width="2" height="2"/><rect x="16" y="20" width="2" height="2"/><rect x="2" y="22" width="4" height="2"/><rect x="12" y="22" width="6" height="2"/><rect x="0" y="24" width="4" height="2"/><rect x="12" y="24" width="4" height="2"/></g></svg></div><div class="ln" style="width:34px;background:#7a7a7a"></div><div class="ln" style="left:38px;width:1556px;background:#82817f"></div><div style="left:38px;top:0;width:136px;height:36px;background:#89a3d7"><div style="position:absolute;left:96px;top:2px;width:39px;height:32px;background:#849fce"></div><div style="position:absolute;left:2px;top:2px;width:94px;height:32px;background:#abc3ee"></div><div class="c" style="position:absolute;left:6px;top:6px;width:84px;height:26px;color:#0c2060;letter-spacing:0.6px">Expense</div><svg style="position:absolute;left:105px;top:8px" width="20" height="20" viewBox="0 0 20 20"><path d="M3.5 6.8 L9.9 13.3 L16.3 6.8" fill="none" stroke="#5a76ad" stroke-width="2.8" stroke-linecap="round" stroke-linejoin="round"/></svg></div><div style="left:176px;top:0;width:128px;height:36px;background:#abc3ee;border-bottom:2px solid #93acdf;border-top:1px solid #86a0d5;border-left:1px solid #86a0d5"></div><div class="c" style="left:182px;top:6px;width:110px;height:26px;color:#0c2060;letter-spacing:1.419px">5340</div><div style="left:306px;top:0;width:487px;height:36px;background:#abc3ee;border-bottom:2px solid #93acdf;border-top:1px solid #86a0d5;border-left:1px solid #86a0d5"></div><div class="c" style="left:312px;top:6px;width:478px;height:26px;color:#0c2060;letter-spacing:0.658px">Local Outreach Ministries</div><div style="left:793px;top:0;width:41px;height:36px;background:#a3bbe8;border-left:1px solid #8fa8dc;border-bottom:2px solid #93acdf"><div style="position:absolute;left:36px;top:6px;width:2px;height:24px;background:#8fa8dc"></div><svg style="position:absolute;left:5px;top:2px" width="32" height="32" viewBox="0 0 32 32"><polygon points="12.1,17.9 13.9,19.5 8.2,27.8 3.4,26.8" fill="url(#hnds)"/><circle cx="17.2" cy="12.1" r="8.2" fill="url(#lenss)" stroke="url(#rims)" stroke-width="1.3"/></svg></div><div style="left:836px;top:0;width:246px;height:36px;background:#89a3d7"><div style="position:absolute;left:206px;top:2px;width:39px;height:32px;background:#849fce"></div><div style="position:absolute;left:2px;top:2px;width:204px;height:32px;background:#abc3ee"></div><div class="c" style="position:absolute;left:7px;top:6px;width:193px;height:26px;color:#0c2060;letter-spacing:0px"><span style="position:absolute;left:0.2px;top:0;letter-spacing:1.719px;">3000 </span><span style="position:absolute;left:61.9px;top:0;letter-spacing:0px;transform-origin:0.7px 50%;transform:scaleX(1.350);">- </span><span style="position:absolute;left:77.8px;top:0;letter-spacing:0.405px;">General </span><span style="position:absolute;left:164.9px;top:0;letter-spacing:0.05px;">Fund</span></div><svg style="position:absolute;left:215px;top:8px" width="20" height="20" viewBox="0 0 20 20"><path d="M3.5 6.8 L9.9 13.3 L16.3 6.8" fill="none" stroke="#5a76ad" stroke-width="2.8" stroke-linecap="round" stroke-linejoin="round"/></svg></div><div style="left:1084px;top:0;width:252px;height:36px;background:#89a3d7"><div style="position:absolute;left:212px;top:2px;width:39px;height:32px;background:#849fce"></div><div style="position:absolute;left:2px;top:2px;width:210px;height:32px;background:#abc3ee"></div><div class="c" style="position:absolute;left:7px;top:6px;width:199px;height:26px;color:#0c2060;letter-spacing:0px"><span style="position:absolute;left:-0.9px;top:0;letter-spacing:0px;">M </span><span style="position:absolute;left:24.6px;top:0;letter-spacing:0px;transform-origin:0.7px 50%;transform:scaleX(1.333);">- </span><span style="position:absolute;left:40.6px;top:0;letter-spacing:0.844px;">Outreach </span></div><svg style="position:absolute;left:221px;top:8px" width="20" height="20" viewBox="0 0 20 20"><path d="M3.5 6.8 L9.9 13.3 L16.3 6.8" fill="none" stroke="#5a76ad" stroke-width="2.8" stroke-linecap="round" stroke-linejoin="round"/></svg></div><div style="left:1338px;top:0;width:256px;height:36px;background:#89a3d7"><div style="position:absolute;left:216px;top:2px;width:39px;height:32px;background:#849fce"></div><div style="position:absolute;left:2px;top:2px;width:214px;height:32px;background:#abc3ee"></div><svg style="position:absolute;left:225px;top:8px" width="20" height="20" viewBox="0 0 20 20"><path d="M3.5 6.8 L9.9 13.3 L16.3 6.8" fill="none" stroke="#5a76ad" stroke-width="2.8" stroke-linecap="round" stroke-linejoin="round"/></svg></div><div style="left:1596px;top:0;width:26px;height:36px;background:#3461d9"></div><div style="left:1624px;top:0;width:72px;height:36px;background:#3461d9"><div style="position:absolute;left:10px;top:4px;width:28px;height:28px;border-radius:7px;background:#6d96e3"></div></div><div class="ln" style="left:1596px;width:100px;background:#8a8378"></div></div>
<div class="row" style="top:270px"><div class="xc"><svg class="xi" width="18" height="26" viewBox="0 0 18 26" shape-rendering="crispEdges"><g fill="#e8381b"><rect x="2" y="0" width="4" height="2"/><rect x="14" y="0" width="4" height="2"/><rect x="2" y="2" width="6" height="2"/><rect x="12" y="2" width="4" height="2"/><rect x="0" y="4" width="2" height="2"/><rect x="6" y="4" width="2" height="2"/><rect x="12" y="4" width="4" height="2"/><rect x="8" y="6" width="6" height="2"/><rect x="8" y="8" width="6" height="2"/><rect x="8" y="10" width="4" height="2"/><rect x="8" y="12" width="4" height="2"/><rect x="6" y="14" width="4" height="2"/><rect x="6" y="16" width="2" height="2"/><rect x="10" y="16" width="2" height="2"/><rect x="4" y="18" width="4" height="2"/><rect x="10" y="18" width="2" height="2"/><rect x="2" y="20" width="4" height="2"/><rect x="10" y="20" width="2" height="2"/><rect x="16" y="20" width="2" height="2"/><rect x="2" y="22" width="4" height="2"/><rect x="12" y="22" width="6" height="2"/><rect x="0" y="24" width="4" height="2"/><rect x="12" y="24" width="4" height="2"/></g></svg></div><div class="ln" style="width:34px;background:#7a7a7a"></div><div class="ln" style="left:38px;width:1556px;background:#82817f"></div><div style="left:38px;top:0;width:136px;height:36px;background:#89a3d7"><div style="position:absolute;left:96px;top:2px;width:39px;height:32px;background:#849fce"></div><div style="position:absolute;left:2px;top:2px;width:94px;height:32px;background:#abc3ee"></div><div class="c" style="position:absolute;left:6px;top:6px;width:84px;height:26px;color:#0c2060;letter-spacing:0.6px">Expense</div><svg style="position:absolute;left:105px;top:8px" width="20" height="20" viewBox="0 0 20 20"><path d="M3.5 6.8 L9.9 13.3 L16.3 6.8" fill="none" stroke="#5a76ad" stroke-width="2.8" stroke-linecap="round" stroke-linejoin="round"/></svg></div><div style="left:176px;top:0;width:128px;height:36px;background:#abc3ee;border-bottom:2px solid #93acdf;border-top:1px solid #86a0d5;border-left:1px solid #86a0d5"></div><div class="c" style="left:182px;top:6px;width:110px;height:26px;color:#0c2060;letter-spacing:1.419px">5350</div><div style="left:306px;top:0;width:487px;height:36px;background:#abc3ee;border-bottom:2px solid #93acdf;border-top:1px solid #86a0d5;border-left:1px solid #86a0d5"></div><div class="c" style="left:312px;top:6px;width:478px;height:26px;color:#0c2060;letter-spacing:0.517px">Miscellaneous Expenses</div><div style="left:793px;top:0;width:41px;height:36px;background:#a3bbe8;border-left:1px solid #8fa8dc;border-bottom:2px solid #93acdf"><div style="position:absolute;left:36px;top:6px;width:2px;height:24px;background:#8fa8dc"></div><svg style="position:absolute;left:5px;top:2px" width="32" height="32" viewBox="0 0 32 32"><polygon points="12.1,17.9 13.9,19.5 8.2,27.8 3.4,26.8" fill="url(#hnds)"/><circle cx="17.2" cy="12.1" r="8.2" fill="url(#lenss)" stroke="url(#rims)" stroke-width="1.3"/></svg></div><div style="left:836px;top:0;width:246px;height:36px;background:#89a3d7"><div style="position:absolute;left:206px;top:2px;width:39px;height:32px;background:#849fce"></div><div style="position:absolute;left:2px;top:2px;width:204px;height:32px;background:#abc3ee"></div><div class="c" style="position:absolute;left:7px;top:6px;width:193px;height:26px;color:#0c2060;letter-spacing:0px"><span style="position:absolute;left:0.2px;top:0;letter-spacing:1.719px;">3000 </span><span style="position:absolute;left:61.9px;top:0;letter-spacing:0px;transform-origin:0.7px 50%;transform:scaleX(1.350);">- </span><span style="position:absolute;left:77.8px;top:0;letter-spacing:0.405px;">General </span><span style="position:absolute;left:164.9px;top:0;letter-spacing:0.05px;">Fund</span></div><svg style="position:absolute;left:215px;top:8px" width="20" height="20" viewBox="0 0 20 20"><path d="M3.5 6.8 L9.9 13.3 L16.3 6.8" fill="none" stroke="#5a76ad" stroke-width="2.8" stroke-linecap="round" stroke-linejoin="round"/></svg></div><div style="left:1084px;top:0;width:252px;height:36px;background:#89a3d7"><div style="position:absolute;left:212px;top:2px;width:39px;height:32px;background:#849fce"></div><div style="position:absolute;left:2px;top:2px;width:210px;height:32px;background:#abc3ee"></div><div class="c" style="position:absolute;left:7px;top:6px;width:199px;height:26px;color:#0c2060;letter-spacing:0px"><span style="position:absolute;left:-1.2px;top:0;letter-spacing:0px;">N </span><span style="position:absolute;left:21.8px;top:0;letter-spacing:0px;transform-origin:0.7px 50%;transform:scaleX(1.317);">- </span><span style="position:absolute;left:37.9px;top:0;letter-spacing:0.733px;">Miscellaneous </span></div><svg style="position:absolute;left:221px;top:8px" width="20" height="20" viewBox="0 0 20 20"><path d="M3.5 6.8 L9.9 13.3 L16.3 6.8" fill="none" stroke="#5a76ad" stroke-width="2.8" stroke-linecap="round" stroke-linejoin="round"/></svg></div><div style="left:1338px;top:0;width:256px;height:36px;background:#89a3d7"><div style="position:absolute;left:216px;top:2px;width:39px;height:32px;background:#849fce"></div><div style="position:absolute;left:2px;top:2px;width:214px;height:32px;background:#abc3ee"></div><svg style="position:absolute;left:225px;top:8px" width="20" height="20" viewBox="0 0 20 20"><path d="M3.5 6.8 L9.9 13.3 L16.3 6.8" fill="none" stroke="#5a76ad" stroke-width="2.8" stroke-linecap="round" stroke-linejoin="round"/></svg></div><div style="left:1596px;top:0;width:26px;height:36px;background:#3461d9"></div><div style="left:1624px;top:0;width:72px;height:36px;background:#3461d9"><div style="position:absolute;left:10px;top:4px;width:28px;height:28px;border-radius:7px;background:#6d96e3"></div></div><div class="ln" style="left:1596px;width:100px;background:#8a8378"></div></div>
<div class="row" style="top:308px"><div class="xc"><svg class="xi" width="18" height="26" viewBox="0 0 18 26" shape-rendering="crispEdges"><g fill="#e8381b"><rect x="2" y="0" width="4" height="2"/><rect x="14" y="0" width="4" height="2"/><rect x="2" y="2" width="6" height="2"/><rect x="12" y="2" width="4" height="2"/><rect x="0" y="4" width="2" height="2"/><rect x="6" y="4" width="2" height="2"/><rect x="12" y="4" width="4" height="2"/><rect x="8" y="6" width="6" height="2"/><rect x="8" y="8" width="6" height="2"/><rect x="8" y="10" width="4" height="2"/><rect x="8" y="12" width="4" height="2"/><rect x="6" y="14" width="4" height="2"/><rect x="6" y="16" width="2" height="2"/><rect x="10" y="16" width="2" height="2"/><rect x="4" y="18" width="4" height="2"/><rect x="10" y="18" width="2" height="2"/><rect x="2" y="20" width="4" height="2"/><rect x="10" y="20" width="2" height="2"/><rect x="16" y="20" width="2" height="2"/><rect x="2" y="22" width="4" height="2"/><rect x="12" y="22" width="6" height="2"/><rect x="0" y="24" width="4" height="2"/><rect x="12" y="24" width="4" height="2"/></g></svg></div><div class="ln" style="width:34px;background:#7a7a7a"></div><div class="ln" style="left:38px;width:1556px;background:#82817f"></div><div style="left:38px;top:0;width:136px;height:36px;background:#89a3d7"><div style="position:absolute;left:96px;top:2px;width:39px;height:32px;background:#849fce"></div><div style="position:absolute;left:2px;top:2px;width:94px;height:32px;background:#abc3ee"></div><div class="c" style="position:absolute;left:6px;top:6px;width:84px;height:26px;color:#0c2060;letter-spacing:0.6px">Expense</div><svg style="position:absolute;left:105px;top:8px" width="20" height="20" viewBox="0 0 20 20"><path d="M3.5 6.8 L9.9 13.3 L16.3 6.8" fill="none" stroke="#5a76ad" stroke-width="2.8" stroke-linecap="round" stroke-linejoin="round"/></svg></div><div style="left:176px;top:0;width:128px;height:36px;background:#abc3ee;border-bottom:2px solid #93acdf;border-top:1px solid #86a0d5;border-left:1px solid #86a0d5"></div><div class="c" style="left:182px;top:6px;width:110px;height:26px;color:#0c2060;letter-spacing:1.419px">5400</div><div style="left:306px;top:0;width:487px;height:36px;background:#abc3ee;border-bottom:2px solid #93acdf;border-top:1px solid #86a0d5;border-left:1px solid #86a0d5"></div><div class="c" style="left:312px;top:6px;width:478px;height:26px;color:#0c2060;letter-spacing:0.778px">Young Adult Ministries</div><div style="left:793px;top:0;width:41px;height:36px;background:#a3bbe8;border-left:1px solid #8fa8dc;border-bottom:2px solid #93acdf"><div style="position:absolute;left:36px;top:6px;width:2px;height:24px;background:#8fa8dc"></div><svg style="position:absolute;left:5px;top:2px" width="32" height="32" viewBox="0 0 32 32"><polygon points="12.1,17.9 13.9,19.5 8.2,27.8 3.4,26.8" fill="url(#hnds)"/><circle cx="17.2" cy="12.1" r="8.2" fill="url(#lenss)" stroke="url(#rims)" stroke-width="1.3"/></svg></div><div style="left:836px;top:0;width:246px;height:36px;background:#89a3d7"><div style="position:absolute;left:206px;top:2px;width:39px;height:32px;background:#849fce"></div><div style="position:absolute;left:2px;top:2px;width:204px;height:32px;background:#abc3ee"></div><div class="c" style="position:absolute;left:7px;top:6px;width:193px;height:26px;color:#0c2060;letter-spacing:0px"><span style="position:absolute;left:0.2px;top:0;letter-spacing:1.719px;">3000 </span><span style="position:absolute;left:61.9px;top:0;letter-spacing:0px;transform-origin:0.7px 50%;transform:scaleX(1.350);">- </span><span style="position:absolute;left:77.8px;top:0;letter-spacing:0.405px;">General </span><span style="position:absolute;left:164.9px;top:0;letter-spacing:0.05px;">Fund</span></div><svg style="position:absolute;left:215px;top:8px" width="20" height="20" viewBox="0 0 20 20"><path d="M3.5 6.8 L9.9 13.3 L16.3 6.8" fill="none" stroke="#5a76ad" stroke-width="2.8" stroke-linecap="round" stroke-linejoin="round"/></svg></div><div style="left:1084px;top:0;width:252px;height:36px;background:#89a3d7"><div style="position:absolute;left:212px;top:2px;width:39px;height:32px;background:#849fce"></div><div style="position:absolute;left:2px;top:2px;width:210px;height:32px;background:#abc3ee"></div><div class="c" style="position:absolute;left:7px;top:6px;width:199px;height:26px;color:#0c2060;letter-spacing:0px"><span style="position:absolute;left:-0.7px;top:0;letter-spacing:0px;">J </span><span style="position:absolute;left:17.4px;top:0;letter-spacing:0px;transform-origin:0.7px 50%;transform:scaleX(1.333);">- </span><span style="position:absolute;left:33.3px;top:0;letter-spacing:0.786px;">Christian </span><span style="position:absolute;left:133.6px;top:0;letter-spacing:0.155px;">Education </span></div><svg style="position:absolute;left:221px;top:8px" width="20" height="20" viewBox="0 0 20 20"><path d="M3.5 6.8 L9.9 13.3 L16.3 6.8" fill="none" stroke="#5a76ad" stroke-width="2.8" stroke-linecap="round" stroke-linejoin="round"/></svg></div><div style="left:1338px;top:0;width:256px;height:36px;background:#89a3d7"><div style="position:absolute;left:216px;top:2px;width:39px;height:32px;background:#849fce"></div><div style="position:absolute;left:2px;top:2px;width:214px;height:32px;background:#abc3ee"></div><svg style="position:absolute;left:225px;top:8px" width="20" height="20" viewBox="0 0 20 20"><path d="M3.5 6.8 L9.9 13.3 L16.3 6.8" fill="none" stroke="#5a76ad" stroke-width="2.8" stroke-linecap="round" stroke-linejoin="round"/></svg></div><div style="left:1596px;top:0;width:26px;height:36px;background:#3461d9"></div><div style="left:1624px;top:0;width:72px;height:36px;background:#3461d9"><div style="position:absolute;left:10px;top:4px;width:28px;height:28px;border-radius:7px;background:#6d96e3"></div></div><div class="ln" style="left:1596px;width:100px;background:#8a8378"></div></div>
<div class="row" style="top:346px"><div class="xc"><svg class="xi" width="18" height="26" viewBox="0 0 18 26" shape-rendering="crispEdges"><g fill="#e8381b"><rect x="2" y="0" width="4" height="2"/><rect x="14" y="0" width="4" height="2"/><rect x="2" y="2" width="6" height="2"/><rect x="12" y="2" width="4" height="2"/><rect x="0" y="4" width="2" height="2"/><rect x="6" y="4" width="2" height="2"/><rect x="12" y="4" width="4" height="2"/><rect x="8" y="6" width="6" height="2"/><rect x="8" y="8" width="6" height="2"/><rect x="8" y="10" width="4" height="2"/><rect x="8" y="12" width="4" height="2"/><rect x="6" y="14" width="4" height="2"/><rect x="6" y="16" width="2" height="2"/><rect x="10" y="16" width="2" height="2"/><rect x="4" y="18" width="4" height="2"/><rect x="10" y="18" width="2" height="2"/><rect x="2" y="20" width="4" height="2"/><rect x="10" y="20" width="2" height="2"/><rect x="16" y="20" width="2" height="2"/><rect x="2" y="22" width="4" height="2"/><rect x="12" y="22" width="6" height="2"/><rect x="0" y="24" width="4" height="2"/><rect x="12" y="24" width="4" height="2"/></g></svg></div><div class="ln" style="width:34px;background:#7a7a7a"></div><div class="ln" style="left:38px;width:1556px;background:#82817f"></div><div style="left:38px;top:0;width:136px;height:36px;background:#89a3d7"><div style="position:absolute;left:96px;top:2px;width:39px;height:32px;background:#849fce"></div><div style="position:absolute;left:2px;top:2px;width:94px;height:32px;background:#abc3ee"></div><div class="c" style="position:absolute;left:6px;top:6px;width:84px;height:26px;color:#0c2060;letter-spacing:0.6px">Expense</div><svg style="position:absolute;left:105px;top:8px" width="20" height="20" viewBox="0 0 20 20"><path d="M3.5 6.8 L9.9 13.3 L16.3 6.8" fill="none" stroke="#5a76ad" stroke-width="2.8" stroke-linecap="round" stroke-linejoin="round"/></svg></div><div style="left:176px;top:0;width:128px;height:36px;background:#abc3ee;border-bottom:2px solid #93acdf;border-top:1px solid #86a0d5;border-left:1px solid #86a0d5"></div><div class="c" style="left:182px;top:6px;width:110px;height:26px;color:#0c2060;letter-spacing:0.285px">7100</div><div style="left:306px;top:0;width:487px;height:36px;background:#abc3ee;border-bottom:2px solid #93acdf;border-top:1px solid #86a0d5;border-left:1px solid #86a0d5"></div><div class="c" style="left:312px;top:6px;width:478px;height:26px;color:#0c2060;letter-spacing:0.487px">Building Fund Expense</div><div style="left:793px;top:0;width:41px;height:36px;background:#a3bbe8;border-left:1px solid #8fa8dc;border-bottom:2px solid #93acdf"><div style="position:absolute;left:36px;top:6px;width:2px;height:24px;background:#8fa8dc"></div><svg style="position:absolute;left:5px;top:2px" width="32" height="32" viewBox="0 0 32 32"><polygon points="12.1,17.9 13.9,19.5 8.2,27.8 3.4,26.8" fill="url(#hnds)"/><circle cx="17.2" cy="12.1" r="8.2" fill="url(#lenss)" stroke="url(#rims)" stroke-width="1.3"/></svg></div><div style="left:836px;top:0;width:246px;height:36px;background:#89a3d7"><div style="position:absolute;left:206px;top:2px;width:39px;height:32px;background:#849fce"></div><div style="position:absolute;left:2px;top:2px;width:204px;height:32px;background:#abc3ee"></div><div class="c" style="position:absolute;left:7px;top:6px;width:193px;height:26px;color:#0c2060;letter-spacing:0px"><span style="position:absolute;left:0.0px;top:0;letter-spacing:0.552px;">3100 </span><span style="position:absolute;left:58.3px;top:0;letter-spacing:0px;transform-origin:0.7px 50%;transform:scaleX(1.267);">- </span><span style="position:absolute;left:74.4px;top:0;letter-spacing:0.874px;">Building </span><span style="position:absolute;left:165.2px;top:0;letter-spacing:0.05px;">Fund</span></div><svg style="position:absolute;left:215px;top:8px" width="20" height="20" viewBox="0 0 20 20"><path d="M3.5 6.8 L9.9 13.3 L16.3 6.8" fill="none" stroke="#5a76ad" stroke-width="2.8" stroke-linecap="round" stroke-linejoin="round"/></svg></div><div style="left:1084px;top:0;width:252px;height:36px;background:#89a3d7"><div style="position:absolute;left:212px;top:2px;width:39px;height:32px;background:#849fce"></div><div style="position:absolute;left:2px;top:2px;width:210px;height:32px;background:#abc3ee"></div><div class="c" style="position:absolute;left:7px;top:6px;width:199px;height:26px;color:#0c2060;letter-spacing:0px"><span style="position:absolute;left:-0.3px;top:0;letter-spacing:0px;">T </span><span style="position:absolute;left:19.6px;top:0;letter-spacing:0px;transform-origin:0.7px 50%;transform:scaleX(1.317);">- </span><span style="position:absolute;left:36.5px;top:0;letter-spacing:0.644px;">Designated </span></div><svg style="position:absolute;left:221px;top:8px" width="20" height="20" viewBox="0 0 20 20"><path d="M3.5 6.8 L9.9 13.3 L16.3 6.8" fill="none" stroke="#5a76ad" stroke-width="2.8" stroke-linecap="round" stroke-linejoin="round"/></svg></div><div style="left:1338px;top:0;width:256px;height:36px;background:#89a3d7"><div style="position:absolute;left:216px;top:2px;width:39px;height:32px;background:#849fce"></div><div style="position:absolute;left:2px;top:2px;width:214px;height:32px;background:#abc3ee"></div><svg style="position:absolute;left:225px;top:8px" width="20" height="20" viewBox="0 0 20 20"><path d="M3.5 6.8 L9.9 13.3 L16.3 6.8" fill="none" stroke="#5a76ad" stroke-width="2.8" stroke-linecap="round" stroke-linejoin="round"/></svg></div><div style="left:1596px;top:0;width:26px;height:36px;background:#3461d9"></div><div style="left:1624px;top:0;width:72px;height:36px;background:#3461d9"><div style="position:absolute;left:10px;top:4px;width:28px;height:28px;border-radius:7px;background:#6d96e3"></div></div><div class="ln" style="left:1596px;width:100px;background:#8a8378"></div></div>
<div class="row" style="top:384px"><div class="xc"><svg class="xi" width="18" height="26" viewBox="0 0 18 26" shape-rendering="crispEdges"><g fill="#e8381b"><rect x="2" y="0" width="4" height="2"/><rect x="14" y="0" width="4" height="2"/><rect x="2" y="2" width="6" height="2"/><rect x="12" y="2" width="4" height="2"/><rect x="0" y="4" width="2" height="2"/><rect x="6" y="4" width="2" height="2"/><rect x="12" y="4" width="4" height="2"/><rect x="8" y="6" width="6" height="2"/><rect x="8" y="8" width="6" height="2"/><rect x="8" y="10" width="4" height="2"/><rect x="8" y="12" width="4" height="2"/><rect x="6" y="14" width="4" height="2"/><rect x="6" y="16" width="2" height="2"/><rect x="10" y="16" width="2" height="2"/><rect x="4" y="18" width="4" height="2"/><rect x="10" y="18" width="2" height="2"/><rect x="2" y="20" width="4" height="2"/><rect x="10" y="20" width="2" height="2"/><rect x="16" y="20" width="2" height="2"/><rect x="2" y="22" width="4" height="2"/><rect x="12" y="22" width="6" height="2"/><rect x="0" y="24" width="4" height="2"/><rect x="12" y="24" width="4" height="2"/></g></svg></div><div class="ln" style="width:34px;background:#7a7a7a"></div><div class="ln" style="left:38px;width:1556px;background:#82817f"></div><div style="left:38px;top:0;width:136px;height:36px;background:#89a3d7"><div style="position:absolute;left:96px;top:2px;width:39px;height:32px;background:#849fce"></div><div style="position:absolute;left:2px;top:2px;width:94px;height:32px;background:#abc3ee"></div><div class="c" style="position:absolute;left:6px;top:6px;width:84px;height:26px;color:#0c2060;letter-spacing:0.6px">Expense</div><svg style="position:absolute;left:105px;top:8px" width="20" height="20" viewBox="0 0 20 20"><path d="M3.5 6.8 L9.9 13.3 L16.3 6.8" fill="none" stroke="#5a76ad" stroke-width="2.8" stroke-linecap="round" stroke-linejoin="round"/></svg></div><div style="left:176px;top:0;width:128px;height:36px;background:#abc3ee;border-bottom:2px solid #93acdf;border-top:1px solid #86a0d5;border-left:1px solid #86a0d5"></div><div class="c" style="left:182px;top:6px;width:110px;height:26px;color:#0c2060;letter-spacing:-0.304px">7110</div><div style="left:306px;top:0;width:487px;height:36px;background:#abc3ee;border-bottom:2px solid #93acdf;border-top:1px solid #86a0d5;border-left:1px solid #86a0d5"></div><div class="c" style="left:312px;top:6px;width:478px;height:26px;color:#0c2060;letter-spacing:0.422px">Missions Fund Expense</div><div style="left:793px;top:0;width:41px;height:36px;background:#a3bbe8;border-left:1px solid #8fa8dc;border-bottom:2px solid #93acdf"><div style="position:absolute;left:36px;top:6px;width:2px;height:24px;background:#8fa8dc"></div><svg style="position:absolute;left:5px;top:2px" width="32" height="32" viewBox="0 0 32 32"><polygon points="12.1,17.9 13.9,19.5 8.2,27.8 3.4,26.8" fill="url(#hnds)"/><circle cx="17.2" cy="12.1" r="8.2" fill="url(#lenss)" stroke="url(#rims)" stroke-width="1.3"/></svg></div><div style="left:836px;top:0;width:246px;height:36px;background:#89a3d7"><div style="position:absolute;left:206px;top:2px;width:39px;height:32px;background:#849fce"></div><div style="position:absolute;left:2px;top:2px;width:204px;height:32px;background:#abc3ee"></div><div class="c" style="position:absolute;left:7px;top:6px;width:193px;height:26px;color:#0c2060;letter-spacing:0px"><span style="position:absolute;left:0.0px;top:0;letter-spacing:-0.004px;">3110 </span><span style="position:absolute;left:54.6px;top:0;letter-spacing:0px;transform-origin:0.7px 50%;transform:scaleX(1.250);">- </span><span style="position:absolute;left:70.4px;top:0;letter-spacing:0.718px;">Missions </span><span style="position:absolute;left:167.4px;top:0;letter-spacing:0.05px;">Fund</span></div><svg style="position:absolute;left:215px;top:8px" width="20" height="20" viewBox="0 0 20 20"><path d="M3.5 6.8 L9.9 13.3 L16.3 6.8" fill="none" stroke="#5a76ad" stroke-width="2.8" stroke-linecap="round" stroke-linejoin="round"/></svg></div><div style="left:1084px;top:0;width:252px;height:36px;background:#89a3d7"><div style="position:absolute;left:212px;top:2px;width:39px;height:32px;background:#849fce"></div><div style="position:absolute;left:2px;top:2px;width:210px;height:32px;background:#abc3ee"></div><div class="c" style="position:absolute;left:7px;top:6px;width:199px;height:26px;color:#0c2060;letter-spacing:0px"><span style="position:absolute;left:-0.3px;top:0;letter-spacing:0px;">T </span><span style="position:absolute;left:19.6px;top:0;letter-spacing:0px;transform-origin:0.7px 50%;transform:scaleX(1.317);">- </span><span style="position:absolute;left:36.5px;top:0;letter-spacing:0.644px;">Designated </span></div><svg style="position:absolute;left:221px;top:8px" width="20" height="20" viewBox="0 0 20 20"><path d="M3.5 6.8 L9.9 13.3 L16.3 6.8" fill="none" stroke="#5a76ad" stroke-width="2.8" stroke-linecap="round" stroke-linejoin="round"/></svg></div><div style="left:1338px;top:0;width:256px;height:36px;background:#89a3d7"><div style="position:absolute;left:216px;top:2px;width:39px;height:32px;background:#849fce"></div><div style="position:absolute;left:2px;top:2px;width:214px;height:32px;background:#abc3ee"></div><svg style="position:absolute;left:225px;top:8px" width="20" height="20" viewBox="0 0 20 20"><path d="M3.5 6.8 L9.9 13.3 L16.3 6.8" fill="none" stroke="#5a76ad" stroke-width="2.8" stroke-linecap="round" stroke-linejoin="round"/></svg></div><div style="left:1596px;top:0;width:26px;height:36px;background:#3461d9"></div><div style="left:1624px;top:0;width:72px;height:36px;background:#3461d9"><div style="position:absolute;left:10px;top:4px;width:28px;height:28px;border-radius:7px;background:#6d96e3"></div></div><div class="ln" style="left:1596px;width:100px;background:#7d7d7d"></div></div>
<div class="row" style="top:422px"><div class="xc"><svg class="xi" width="18" height="26" viewBox="0 0 18 26" shape-rendering="crispEdges"><g fill="#e8381b"><rect x="2" y="0" width="4" height="2"/><rect x="14" y="0" width="4" height="2"/><rect x="2" y="2" width="6" height="2"/><rect x="12" y="2" width="4" height="2"/><rect x="0" y="4" width="2" height="2"/><rect x="6" y="4" width="2" height="2"/><rect x="12" y="4" width="4" height="2"/><rect x="8" y="6" width="6" height="2"/><rect x="8" y="8" width="6" height="2"/><rect x="8" y="10" width="4" height="2"/><rect x="8" y="12" width="4" height="2"/><rect x="6" y="14" width="4" height="2"/><rect x="6" y="16" width="2" height="2"/><rect x="10" y="16" width="2" height="2"/><rect x="4" y="18" width="4" height="2"/><rect x="10" y="18" width="2" height="2"/><rect x="2" y="20" width="4" height="2"/><rect x="10" y="20" width="2" height="2"/><rect x="16" y="20" width="2" height="2"/><rect x="2" y="22" width="4" height="2"/><rect x="12" y="22" width="6" height="2"/><rect x="0" y="24" width="4" height="2"/><rect x="12" y="24" width="4" height="2"/></g></svg></div><div class="ln" style="width:34px;background:#7a7a7a"></div><div class="ln" style="left:38px;width:1556px;background:#7f7f7f"></div><div style="left:38px;top:0;width:136px;height:36px;background:#c8c8c8"><div style="position:absolute;left:96px;top:2px;width:39px;height:32px;background:#c3c3c3"></div><div style="position:absolute;left:2px;top:2px;width:94px;height:32px;background:#f5f5f5"></div><div class="c" style="position:absolute;left:6px;top:6px;width:84px;height:26px;color:#000;letter-spacing:0.6px">Expense</div><svg style="position:absolute;left:105px;top:8px" width="20" height="20" viewBox="0 0 20 20"><path d="M3.5 6.8 L9.9 13.3 L16.3 6.8" fill="none" stroke="#858585" stroke-width="2.8" stroke-linecap="round" stroke-linejoin="round"/></svg></div><div style="left:176px;top:0;width:128px;height:36px;background:#fff;border-bottom:2px solid #d2d2d2;border-top:1px solid #c4c4c4;border-left:1px solid #c4c4c4"></div><div class="c" style="left:182px;top:6px;width:110px;height:26px;color:#000;letter-spacing:0.285px">7120</div><div style="left:306px;top:0;width:487px;height:36px;background:#fff;border-bottom:2px solid #d2d2d2;border-top:1px solid #c4c4c4;border-left:1px solid #c4c4c4"></div><div class="c" style="left:312px;top:6px;width:478px;height:26px;color:#000;letter-spacing:0.477px">Memorial Fund Expense</div><div style="left:793px;top:0;width:41px;height:36px;background:#efefef;border-left:1px solid #d6d6d6;border-bottom:2px solid #d2d2d2"><div style="position:absolute;left:36px;top:6px;width:2px;height:24px;background:#d6d6d6"></div><svg style="position:absolute;left:5px;top:2px" width="32" height="32" viewBox="0 0 32 32"><polygon points="12.1,17.9 13.9,19.5 8.2,27.8 3.4,26.8" fill="url(#hndu)"/><circle cx="17.2" cy="12.1" r="8.2" fill="url(#lensu)" stroke="url(#rimu)" stroke-width="1.3"/></svg></div><div style="left:836px;top:0;width:246px;height:36px;background:#c8c8c8"><div style="position:absolute;left:206px;top:2px;width:39px;height:32px;background:#c3c3c3"></div><div style="position:absolute;left:2px;top:2px;width:204px;height:32px;background:#f5f5f5"></div><div class="c" style="position:absolute;left:7px;top:6px;width:193px;height:26px;color:#000;letter-spacing:0px"><span style="position:absolute;left:0.0px;top:0;letter-spacing:0.452px;">3120 </span><span style="position:absolute;left:56.8px;top:0;letter-spacing:0px;transform-origin:0.7px 50%;transform:scaleX(1.383);">- </span><span style="position:absolute;left:73.4px;top:0;letter-spacing:0.777px;">Memorial </span><span style="position:absolute;left:175.7px;top:0;letter-spacing:0.05px;">Fund</span></div><svg style="position:absolute;left:215px;top:8px" width="20" height="20" viewBox="0 0 20 20"><path d="M3.5 6.8 L9.9 13.3 L16.3 6.8" fill="none" stroke="#858585" stroke-width="2.8" stroke-linecap="round" stroke-linejoin="round"/></svg></div><div style="left:1084px;top:0;width:252px;height:36px;background:#c8c8c8"><div style="position:absolute;left:212px;top:2px;width:39px;height:32px;background:#c3c3c3"></div><div style="position:absolute;left:2px;top:2px;width:210px;height:32px;background:#f5f5f5"></div><div class="c" style="position:absolute;left:7px;top:6px;width:199px;height:26px;color:#000;letter-spacing:0px"><span style="position:absolute;left:-0.3px;top:0;letter-spacing:0px;">T </span><span style="position:absolute;left:19.6px;top:0;letter-spacing:0px;transform-origin:0.7px 50%;transform:scaleX(1.317);">- </span><span style="position:absolute;left:36.5px;top:0;letter-spacing:0.644px;">Designated </span></div><svg style="position:absolute;left:221px;top:8px" width="20" height="20" viewBox="0 0 20 20"><path d="M3.5 6.8 L9.9 13.3 L16.3 6.8" fill="none" stroke="#858585" stroke-width="2.8" stroke-linecap="round" stroke-linejoin="round"/></svg></div><div style="left:1338px;top:0;width:256px;height:36px;background:#c8c8c8"><div style="position:absolute;left:216px;top:2px;width:39px;height:32px;background:#c3c3c3"></div><div style="position:absolute;left:2px;top:2px;width:214px;height:32px;background:#f5f5f5"></div><svg style="position:absolute;left:225px;top:8px" width="20" height="20" viewBox="0 0 20 20"><path d="M3.5 6.8 L9.9 13.3 L16.3 6.8" fill="none" stroke="#858585" stroke-width="2.8" stroke-linecap="round" stroke-linejoin="round"/></svg></div><div style="left:1624px;top:0;width:72px;height:36px;background:#fff"><div style="position:absolute;left:10px;top:4px;width:28px;height:28px;border-radius:7px;background:#fff;border:1px solid #dcdcdc;box-shadow:0 0.5px 1.5px rgba(0,0,0,0.12)"></div></div><div class="ln" style="left:1596px;width:100px;background:#7d7d7d"></div></div>
<div class="row" style="top:460px"><div class="xc"><svg class="xi" width="18" height="26" viewBox="0 0 18 26" shape-rendering="crispEdges"><g fill="#e8381b"><rect x="2" y="0" width="4" height="2"/><rect x="14" y="0" width="4" height="2"/><rect x="2" y="2" width="6" height="2"/><rect x="12" y="2" width="4" height="2"/><rect x="0" y="4" width="2" height="2"/><rect x="6" y="4" width="2" height="2"/><rect x="12" y="4" width="4" height="2"/><rect x="8" y="6" width="6" height="2"/><rect x="8" y="8" width="6" height="2"/><rect x="8" y="10" width="4" height="2"/><rect x="8" y="12" width="4" height="2"/><rect x="6" y="14" width="4" height="2"/><rect x="6" y="16" width="2" height="2"/><rect x="10" y="16" width="2" height="2"/><rect x="4" y="18" width="4" height="2"/><rect x="10" y="18" width="2" height="2"/><rect x="2" y="20" width="4" height="2"/><rect x="10" y="20" width="2" height="2"/><rect x="16" y="20" width="2" height="2"/><rect x="2" y="22" width="4" height="2"/><rect x="12" y="22" width="6" height="2"/><rect x="0" y="24" width="4" height="2"/><rect x="12" y="24" width="4" height="2"/></g></svg></div><div class="ln" style="width:34px;background:#7a7a7a"></div><div class="ln" style="left:38px;width:1556px;background:#82817f"></div><div style="left:38px;top:0;width:136px;height:36px;background:#89a3d7"><div style="position:absolute;left:96px;top:2px;width:39px;height:32px;background:#849fce"></div><div style="position:absolute;left:2px;top:2px;width:94px;height:32px;background:#abc3ee"></div><div class="c" style="position:absolute;left:6px;top:6px;width:84px;height:26px;color:#0c2060;letter-spacing:0.6px">Expense</div><svg style="position:absolute;left:105px;top:8px" width="20" height="20" viewBox="0 0 20 20"><path d="M3.5 6.8 L9.9 13.3 L16.3 6.8" fill="none" stroke="#5a76ad" stroke-width="2.8" stroke-linecap="round" stroke-linejoin="round"/></svg></div><div style="left:176px;top:0;width:128px;height:36px;background:#abc3ee;border-bottom:2px solid #93acdf;border-top:1px solid #86a0d5;border-left:1px solid #86a0d5"></div><div class="c" style="left:182px;top:6px;width:110px;height:26px;color:#0c2060;letter-spacing:1.419px">7200</div><div style="left:306px;top:0;width:487px;height:36px;background:#abc3ee;border-bottom:2px solid #93acdf;border-top:1px solid #86a0d5;border-left:1px solid #86a0d5"></div><div class="c" style="left:312px;top:6px;width:478px;height:26px;color:#0c2060;letter-spacing:0.413px">Special Fund Expense</div><div style="left:793px;top:0;width:41px;height:36px;background:#a3bbe8;border-left:1px solid #8fa8dc;border-bottom:2px solid #93acdf"><div style="position:absolute;left:36px;top:6px;width:2px;height:24px;background:#8fa8dc"></div><svg style="position:absolute;left:5px;top:2px" width="32" height="32" viewBox="0 0 32 32"><polygon points="12.1,17.9 13.9,19.5 8.2,27.8 3.4,26.8" fill="url(#hnds)"/><circle cx="17.2" cy="12.1" r="8.2" fill="url(#lenss)" stroke="url(#rims)" stroke-width="1.3"/></svg></div><div style="left:836px;top:0;width:246px;height:36px;background:#89a3d7"><div style="position:absolute;left:206px;top:2px;width:39px;height:32px;background:#849fce"></div><div style="position:absolute;left:2px;top:2px;width:204px;height:32px;background:#abc3ee"></div><div class="c" style="position:absolute;left:7px;top:6px;width:193px;height:26px;color:#0c2060;letter-spacing:0px"><span style="position:absolute;left:0.0px;top:0;letter-spacing:1.552px;">3200 </span><span style="position:absolute;left:61.3px;top:0;letter-spacing:0px;transform-origin:0.7px 50%;transform:scaleX(1.267);">- </span><span style="position:absolute;left:76.7px;top:0;letter-spacing:0.641px;">Special </span><span style="position:absolute;left:159.1px;top:0;letter-spacing:0.05px;">Fund</span></div><svg style="position:absolute;left:215px;top:8px" width="20" height="20" viewBox="0 0 20 20"><path d="M3.5 6.8 L9.9 13.3 L16.3 6.8" fill="none" stroke="#5a76ad" stroke-width="2.8" stroke-linecap="round" stroke-linejoin="round"/></svg></div><div style="left:1084px;top:0;width:252px;height:36px;background:#89a3d7"><div style="position:absolute;left:212px;top:2px;width:39px;height:32px;background:#849fce"></div><div style="position:absolute;left:2px;top:2px;width:210px;height:32px;background:#abc3ee"></div><div class="c" style="position:absolute;left:7px;top:6px;width:199px;height:26px;color:#0c2060;letter-spacing:0px"><span style="position:absolute;left:-0.3px;top:0;letter-spacing:0px;">T </span><span style="position:absolute;left:19.6px;top:0;letter-spacing:0px;transform-origin:0.7px 50%;transform:scaleX(1.317);">- </span><span style="position:absolute;left:36.5px;top:0;letter-spacing:0.644px;">Designated </span></div><svg style="position:absolute;left:221px;top:8px" width="20" height="20" viewBox="0 0 20 20"><path d="M3.5 6.8 L9.9 13.3 L16.3 6.8" fill="none" stroke="#5a76ad" stroke-width="2.8" stroke-linecap="round" stroke-linejoin="round"/></svg></div><div style="left:1338px;top:0;width:256px;height:36px;background:#89a3d7"><div style="position:absolute;left:216px;top:2px;width:39px;height:32px;background:#849fce"></div><div style="position:absolute;left:2px;top:2px;width:214px;height:32px;background:#abc3ee"></div><svg style="position:absolute;left:225px;top:8px" width="20" height="20" viewBox="0 0 20 20"><path d="M3.5 6.8 L9.9 13.3 L16.3 6.8" fill="none" stroke="#5a76ad" stroke-width="2.8" stroke-linecap="round" stroke-linejoin="round"/></svg></div><div style="left:1596px;top:0;width:26px;height:36px;background:#3461d9"></div><div style="left:1624px;top:0;width:72px;height:36px;background:#3461d9"><div style="position:absolute;left:10px;top:4px;width:28px;height:28px;border-radius:7px;background:#6d96e3"></div></div><div class="ln" style="left:1596px;width:100px;background:#8a8378"></div></div>
<div class="row" style="top:498px"><div class="xc"><svg class="xi" width="18" height="26" viewBox="0 0 18 26" shape-rendering="crispEdges"><g fill="#e8381b"><rect x="2" y="0" width="4" height="2"/><rect x="14" y="0" width="4" height="2"/><rect x="2" y="2" width="6" height="2"/><rect x="12" y="2" width="4" height="2"/><rect x="0" y="4" width="2" height="2"/><rect x="6" y="4" width="2" height="2"/><rect x="12" y="4" width="4" height="2"/><rect x="8" y="6" width="6" height="2"/><rect x="8" y="8" width="6" height="2"/><rect x="8" y="10" width="4" height="2"/><rect x="8" y="12" width="4" height="2"/><rect x="6" y="14" width="4" height="2"/><rect x="6" y="16" width="2" height="2"/><rect x="10" y="16" width="2" height="2"/><rect x="4" y="18" width="4" height="2"/><rect x="10" y="18" width="2" height="2"/><rect x="2" y="20" width="4" height="2"/><rect x="10" y="20" width="2" height="2"/><rect x="16" y="20" width="2" height="2"/><rect x="2" y="22" width="4" height="2"/><rect x="12" y="22" width="6" height="2"/><rect x="0" y="24" width="4" height="2"/><rect x="12" y="24" width="4" height="2"/></g></svg></div><div class="ln" style="width:34px;background:#7a7a7a"></div><div class="ln" style="left:38px;width:1556px;background:#82817f"></div><div style="left:38px;top:0;width:136px;height:36px;background:#89a3d7"><div style="position:absolute;left:96px;top:2px;width:39px;height:32px;background:#849fce"></div><div style="position:absolute;left:2px;top:2px;width:94px;height:32px;background:#abc3ee"></div><div class="c" style="position:absolute;left:6px;top:6px;width:84px;height:26px;color:#0c2060;letter-spacing:0.6px">Expense</div><svg style="position:absolute;left:105px;top:8px" width="20" height="20" viewBox="0 0 20 20"><path d="M3.5 6.8 L9.9 13.3 L16.3 6.8" fill="none" stroke="#5a76ad" stroke-width="2.8" stroke-linecap="round" stroke-linejoin="round"/></svg></div><div style="left:176px;top:0;width:128px;height:36px;background:#abc3ee;border-bottom:2px solid #93acdf;border-top:1px solid #86a0d5;border-left:1px solid #86a0d5"></div><div class="c" style="left:182px;top:6px;width:110px;height:26px;color:#0c2060;letter-spacing:0.285px">7210</div><div style="left:306px;top:0;width:487px;height:36px;background:#abc3ee;border-bottom:2px solid #93acdf;border-top:1px solid #86a0d5;border-left:1px solid #86a0d5"></div><div class="c" style="left:312px;top:6px;width:478px;height:26px;color:#0c2060;letter-spacing:0.532px">Easter Offering Expense</div><div style="left:793px;top:0;width:41px;height:36px;background:#a3bbe8;border-left:1px solid #8fa8dc;border-bottom:2px solid #93acdf"><div style="position:absolute;left:36px;top:6px;width:2px;height:24px;background:#8fa8dc"></div><svg style="position:absolute;left:5px;top:2px" width="32" height="32" viewBox="0 0 32 32"><polygon points="12.1,17.9 13.9,19.5 8.2,27.8 3.4,26.8" fill="url(#hnds)"/><circle cx="17.2" cy="12.1" r="8.2" fill="url(#lenss)" stroke="url(#rims)" stroke-width="1.3"/></svg></div><div style="left:836px;top:0;width:246px;height:36px;background:#89a3d7"><div style="position:absolute;left:206px;top:2px;width:39px;height:32px;background:#849fce"></div><div style="position:absolute;left:2px;top:2px;width:204px;height:32px;background:#abc3ee"></div><div class="c" style="position:absolute;left:7px;top:6px;width:193px;height:26px;color:#0c2060;letter-spacing:0px"><span style="position:absolute;left:0.0px;top:0;letter-spacing:1.552px;">3200 </span><span style="position:absolute;left:61.3px;top:0;letter-spacing:0px;transform-origin:0.7px 50%;transform:scaleX(1.267);">- </span><span style="position:absolute;left:76.7px;top:0;letter-spacing:0.641px;">Special </span><span style="position:absolute;left:159.1px;top:0;letter-spacing:0.05px;">Fund</span></div><svg style="position:absolute;left:215px;top:8px" width="20" height="20" viewBox="0 0 20 20"><path d="M3.5 6.8 L9.9 13.3 L16.3 6.8" fill="none" stroke="#5a76ad" stroke-width="2.8" stroke-linecap="round" stroke-linejoin="round"/></svg></div><div style="left:1084px;top:0;width:252px;height:36px;background:#89a3d7"><div style="position:absolute;left:212px;top:2px;width:39px;height:32px;background:#849fce"></div><div style="position:absolute;left:2px;top:2px;width:210px;height:32px;background:#abc3ee"></div><div class="c" style="position:absolute;left:7px;top:6px;width:199px;height:26px;color:#0c2060;letter-spacing:0px"><span style="position:absolute;left:-0.3px;top:0;letter-spacing:0px;">T </span><span style="position:absolute;left:19.6px;top:0;letter-spacing:0px;transform-origin:0.7px 50%;transform:scaleX(1.317);">- </span><span style="position:absolute;left:36.5px;top:0;letter-spacing:0.644px;">Designated </span></div><svg style="position:absolute;left:221px;top:8px" width="20" height="20" viewBox="0 0 20 20"><path d="M3.5 6.8 L9.9 13.3 L16.3 6.8" fill="none" stroke="#5a76ad" stroke-width="2.8" stroke-linecap="round" stroke-linejoin="round"/></svg></div><div style="left:1338px;top:0;width:256px;height:36px;background:#89a3d7"><div style="position:absolute;left:216px;top:2px;width:39px;height:32px;background:#849fce"></div><div style="position:absolute;left:2px;top:2px;width:214px;height:32px;background:#abc3ee"></div><svg style="position:absolute;left:225px;top:8px" width="20" height="20" viewBox="0 0 20 20"><path d="M3.5 6.8 L9.9 13.3 L16.3 6.8" fill="none" stroke="#5a76ad" stroke-width="2.8" stroke-linecap="round" stroke-linejoin="round"/></svg></div><div style="left:1596px;top:0;width:26px;height:36px;background:#3461d9"></div><div style="left:1624px;top:0;width:72px;height:36px;background:#3461d9"><div style="position:absolute;left:10px;top:4px;width:28px;height:28px;border-radius:7px;background:#6d96e3"></div></div><div class="ln" style="left:1596px;width:100px;background:#8a8378"></div></div>
<div class="row" style="top:536px"><div class="xc"><svg class="xi" width="18" height="26" viewBox="0 0 18 26" shape-rendering="crispEdges"><g fill="#e8381b"><rect x="2" y="0" width="4" height="2"/><rect x="14" y="0" width="4" height="2"/><rect x="2" y="2" width="6" height="2"/><rect x="12" y="2" width="4" height="2"/><rect x="0" y="4" width="2" height="2"/><rect x="6" y="4" width="2" height="2"/><rect x="12" y="4" width="4" height="2"/><rect x="8" y="6" width="6" height="2"/><rect x="8" y="8" width="6" height="2"/><rect x="8" y="10" width="4" height="2"/><rect x="8" y="12" width="4" height="2"/><rect x="6" y="14" width="4" height="2"/><rect x="6" y="16" width="2" height="2"/><rect x="10" y="16" width="2" height="2"/><rect x="4" y="18" width="4" height="2"/><rect x="10" y="18" width="2" height="2"/><rect x="2" y="20" width="4" height="2"/><rect x="10" y="20" width="2" height="2"/><rect x="16" y="20" width="2" height="2"/><rect x="2" y="22" width="4" height="2"/><rect x="12" y="22" width="6" height="2"/><rect x="0" y="24" width="4" height="2"/><rect x="12" y="24" width="4" height="2"/></g></svg></div><div class="ln" style="width:34px;background:#7a7a7a"></div><div class="ln" style="left:38px;width:1556px;background:#82817f"></div><div style="left:38px;top:0;width:136px;height:36px;background:#89a3d7"><div style="position:absolute;left:96px;top:2px;width:39px;height:32px;background:#849fce"></div><div style="position:absolute;left:2px;top:2px;width:94px;height:32px;background:#abc3ee"></div><div class="c" style="position:absolute;left:6px;top:6px;width:84px;height:26px;color:#0c2060;letter-spacing:0.6px">Expense</div><svg style="position:absolute;left:105px;top:8px" width="20" height="20" viewBox="0 0 20 20"><path d="M3.5 6.8 L9.9 13.3 L16.3 6.8" fill="none" stroke="#5a76ad" stroke-width="2.8" stroke-linecap="round" stroke-linejoin="round"/></svg></div><div style="left:176px;top:0;width:128px;height:36px;background:#abc3ee;border-bottom:2px solid #93acdf;border-top:1px solid #86a0d5;border-left:1px solid #86a0d5"></div><div class="c" style="left:182px;top:6px;width:110px;height:26px;color:#0c2060;letter-spacing:1.419px">7220</div><div style="left:306px;top:0;width:487px;height:36px;background:#abc3ee;border-bottom:2px solid #93acdf;border-top:1px solid #86a0d5;border-left:1px solid #86a0d5"></div><div class="c" style="left:312px;top:6px;width:478px;height:26px;color:#0c2060;letter-spacing:0.658px">Pentecost Offering Expense</div><div style="left:793px;top:0;width:41px;height:36px;background:#a3bbe8;border-left:1px solid #8fa8dc;border-bottom:2px solid #93acdf"><div style="position:absolute;left:36px;top:6px;width:2px;height:24px;background:#8fa8dc"></div><svg style="position:absolute;left:5px;top:2px" width="32" height="32" viewBox="0 0 32 32"><polygon points="12.1,17.9 13.9,19.5 8.2,27.8 3.4,26.8" fill="url(#hnds)"/><circle cx="17.2" cy="12.1" r="8.2" fill="url(#lenss)" stroke="url(#rims)" stroke-width="1.3"/></svg></div><div style="left:836px;top:0;width:246px;height:36px;background:#89a3d7"><div style="position:absolute;left:206px;top:2px;width:39px;height:32px;background:#849fce"></div><div style="position:absolute;left:2px;top:2px;width:204px;height:32px;background:#abc3ee"></div><div class="c" style="position:absolute;left:7px;top:6px;width:193px;height:26px;color:#0c2060;letter-spacing:0px"><span style="position:absolute;left:0.0px;top:0;letter-spacing:1.552px;">3200 </span><span style="position:absolute;left:61.3px;top:0;letter-spacing:0px;transform-origin:0.7px 50%;transform:scaleX(1.267);">- </span><span style="position:absolute;left:76.7px;top:0;letter-spacing:0.641px;">Special </span><span style="position:absolute;left:159.1px;top:0;letter-spacing:0.05px;">Fund</span></div><svg style="position:absolute;left:215px;top:8px" width="20" height="20" viewBox="0 0 20 20"><path d="M3.5 6.8 L9.9 13.3 L16.3 6.8" fill="none" stroke="#5a76ad" stroke-width="2.8" stroke-linecap="round" stroke-linejoin="round"/></svg></div><div style="left:1084px;top:0;width:252px;height:36px;background:#89a3d7"><div style="position:absolute;left:212px;top:2px;width:39px;height:32px;background:#849fce"></div><div style="position:absolute;left:2px;top:2px;width:210px;height:32px;background:#abc3ee"></div><div class="c" style="position:absolute;left:7px;top:6px;width:199px;height:26px;color:#0c2060;letter-spacing:0px"><span style="position:absolute;left:-0.3px;top:0;letter-spacing:0px;">T </span><span style="position:absolute;left:19.6px;top:0;letter-spacing:0px;transform-origin:0.7px 50%;transform:scaleX(1.317);">- </span><span style="position:absolute;left:36.5px;top:0;letter-spacing:0.644px;">Designated </span></div><svg style="position:absolute;left:221px;top:8px" width="20" height="20" viewBox="0 0 20 20"><path d="M3.5 6.8 L9.9 13.3 L16.3 6.8" fill="none" stroke="#5a76ad" stroke-width="2.8" stroke-linecap="round" stroke-linejoin="round"/></svg></div><div style="left:1338px;top:0;width:256px;height:36px;background:#89a3d7"><div style="position:absolute;left:216px;top:2px;width:39px;height:32px;background:#849fce"></div><div style="position:absolute;left:2px;top:2px;width:214px;height:32px;background:#abc3ee"></div><svg style="position:absolute;left:225px;top:8px" width="20" height="20" viewBox="0 0 20 20"><path d="M3.5 6.8 L9.9 13.3 L16.3 6.8" fill="none" stroke="#5a76ad" stroke-width="2.8" stroke-linecap="round" stroke-linejoin="round"/></svg></div><div style="left:1596px;top:0;width:26px;height:36px;background:#3461d9"></div><div style="left:1624px;top:0;width:72px;height:36px;background:#3461d9"><div style="position:absolute;left:10px;top:4px;width:28px;height:28px;border-radius:7px;background:#6d96e3"></div></div><div class="ln" style="left:1596px;width:100px;background:#8a8378"></div></div>
<div class="row" style="top:574px"><div class="xc"><svg class="xi" width="18" height="26" viewBox="0 0 18 26" shape-rendering="crispEdges"><g fill="#e8381b"><rect x="2" y="0" width="4" height="2"/><rect x="14" y="0" width="4" height="2"/><rect x="2" y="2" width="6" height="2"/><rect x="12" y="2" width="4" height="2"/><rect x="0" y="4" width="2" height="2"/><rect x="6" y="4" width="2" height="2"/><rect x="12" y="4" width="4" height="2"/><rect x="8" y="6" width="6" height="2"/><rect x="8" y="8" width="6" height="2"/><rect x="8" y="10" width="4" height="2"/><rect x="8" y="12" width="4" height="2"/><rect x="6" y="14" width="4" height="2"/><rect x="6" y="16" width="2" height="2"/><rect x="10" y="16" width="2" height="2"/><rect x="4" y="18" width="4" height="2"/><rect x="10" y="18" width="2" height="2"/><rect x="2" y="20" width="4" height="2"/><rect x="10" y="20" width="2" height="2"/><rect x="16" y="20" width="2" height="2"/><rect x="2" y="22" width="4" height="2"/><rect x="12" y="22" width="6" height="2"/><rect x="0" y="24" width="4" height="2"/><rect x="12" y="24" width="4" height="2"/></g></svg></div><div class="ln" style="width:34px;background:#7a7a7a"></div><div class="ln" style="left:38px;width:1556px;background:#82817f"></div><div style="left:38px;top:0;width:136px;height:36px;background:#89a3d7"><div style="position:absolute;left:96px;top:2px;width:39px;height:32px;background:#849fce"></div><div style="position:absolute;left:2px;top:2px;width:94px;height:32px;background:#abc3ee"></div><div class="c" style="position:absolute;left:6px;top:6px;width:84px;height:26px;color:#0c2060;letter-spacing:0.6px">Expense</div><svg style="position:absolute;left:105px;top:8px" width="20" height="20" viewBox="0 0 20 20"><path d="M3.5 6.8 L9.9 13.3 L16.3 6.8" fill="none" stroke="#5a76ad" stroke-width="2.8" stroke-linecap="round" stroke-linejoin="round"/></svg></div><div style="left:176px;top:0;width:128px;height:36px;background:#abc3ee;border-bottom:2px solid #93acdf;border-top:1px solid #86a0d5;border-left:1px solid #86a0d5"></div><div class="c" style="left:182px;top:6px;width:110px;height:26px;color:#0c2060;letter-spacing:1.419px">7230</div><div style="left:306px;top:0;width:487px;height:36px;background:#abc3ee;border-bottom:2px solid #93acdf;border-top:1px solid #86a0d5;border-left:1px solid #86a0d5"></div><div class="c" style="left:312px;top:6px;width:478px;height:26px;color:#0c2060;letter-spacing:0.667px">Thanksgiving Offering Expense</div><div style="left:793px;top:0;width:41px;height:36px;background:#a3bbe8;border-left:1px solid #8fa8dc;border-bottom:2px solid #93acdf"><div style="position:absolute;left:36px;top:6px;width:2px;height:24px;background:#8fa8dc"></div><svg style="position:absolute;left:5px;top:2px" width="32" height="32" viewBox="0 0 32 32"><polygon points="12.1,17.9 13.9,19.5 8.2,27.8 3.4,26.8" fill="url(#hnds)"/><circle cx="17.2" cy="12.1" r="8.2" fill="url(#lenss)" stroke="url(#rims)" stroke-width="1.3"/></svg></div><div style="left:836px;top:0;width:246px;height:36px;background:#89a3d7"><div style="position:absolute;left:206px;top:2px;width:39px;height:32px;background:#849fce"></div><div style="position:absolute;left:2px;top:2px;width:204px;height:32px;background:#abc3ee"></div><div class="c" style="position:absolute;left:7px;top:6px;width:193px;height:26px;color:#0c2060;letter-spacing:0px"><span style="position:absolute;left:0.0px;top:0;letter-spacing:1.552px;">3200 </span><span style="position:absolute;left:61.3px;top:0;letter-spacing:0px;transform-origin:0.7px 50%;transform:scaleX(1.267);">- </span><span style="position:absolute;left:76.7px;top:0;letter-spacing:0.641px;">Special </span><span style="position:absolute;left:159.1px;top:0;letter-spacing:0.05px;">Fund</span></div><svg style="position:absolute;left:215px;top:8px" width="20" height="20" viewBox="0 0 20 20"><path d="M3.5 6.8 L9.9 13.3 L16.3 6.8" fill="none" stroke="#5a76ad" stroke-width="2.8" stroke-linecap="round" stroke-linejoin="round"/></svg></div><div style="left:1084px;top:0;width:252px;height:36px;background:#89a3d7"><div style="position:absolute;left:212px;top:2px;width:39px;height:32px;background:#849fce"></div><div style="position:absolute;left:2px;top:2px;width:210px;height:32px;background:#abc3ee"></div><div class="c" style="position:absolute;left:7px;top:6px;width:199px;height:26px;color:#0c2060;letter-spacing:0px"><span style="position:absolute;left:-0.3px;top:0;letter-spacing:0px;">T </span><span style="position:absolute;left:19.6px;top:0;letter-spacing:0px;transform-origin:0.7px 50%;transform:scaleX(1.317);">- </span><span style="position:absolute;left:36.5px;top:0;letter-spacing:0.644px;">Designated </span></div><svg style="position:absolute;left:221px;top:8px" width="20" height="20" viewBox="0 0 20 20"><path d="M3.5 6.8 L9.9 13.3 L16.3 6.8" fill="none" stroke="#5a76ad" stroke-width="2.8" stroke-linecap="round" stroke-linejoin="round"/></svg></div><div style="left:1338px;top:0;width:256px;height:36px;background:#89a3d7"><div style="position:absolute;left:216px;top:2px;width:39px;height:32px;background:#849fce"></div><div style="position:absolute;left:2px;top:2px;width:214px;height:32px;background:#abc3ee"></div><svg style="position:absolute;left:225px;top:8px" width="20" height="20" viewBox="0 0 20 20"><path d="M3.5 6.8 L9.9 13.3 L16.3 6.8" fill="none" stroke="#5a76ad" stroke-width="2.8" stroke-linecap="round" stroke-linejoin="round"/></svg></div><div style="left:1596px;top:0;width:26px;height:36px;background:#3461d9"></div><div style="left:1624px;top:0;width:72px;height:36px;background:#3461d9"><div style="position:absolute;left:10px;top:4px;width:28px;height:28px;border-radius:7px;background:#6d96e3"></div></div><div class="ln" style="left:1596px;width:100px;background:#8a8378"></div></div>
<div class="row" style="top:612px"><div class="xc"><svg class="xi" width="18" height="26" viewBox="0 0 18 26" shape-rendering="crispEdges"><g fill="#e8381b"><rect x="2" y="0" width="4" height="2"/><rect x="14" y="0" width="4" height="2"/><rect x="2" y="2" width="6" height="2"/><rect x="12" y="2" width="4" height="2"/><rect x="0" y="4" width="2" height="2"/><rect x="6" y="4" width="2" height="2"/><rect x="12" y="4" width="4" height="2"/><rect x="8" y="6" width="6" height="2"/><rect x="8" y="8" width="6" height="2"/><rect x="8" y="10" width="4" height="2"/><rect x="8" y="12" width="4" height="2"/><rect x="6" y="14" width="4" height="2"/><rect x="6" y="16" width="2" height="2"/><rect x="10" y="16" width="2" height="2"/><rect x="4" y="18" width="4" height="2"/><rect x="10" y="18" width="2" height="2"/><rect x="2" y="20" width="4" height="2"/><rect x="10" y="20" width="2" height="2"/><rect x="16" y="20" width="2" height="2"/><rect x="2" y="22" width="4" height="2"/><rect x="12" y="22" width="6" height="2"/><rect x="0" y="24" width="4" height="2"/><rect x="12" y="24" width="4" height="2"/></g></svg></div><div class="ln" style="width:34px;background:#7a7a7a"></div><div class="ln" style="left:38px;width:1556px;background:#82817f"></div><div style="left:38px;top:0;width:136px;height:36px;background:#89a3d7"><div style="position:absolute;left:96px;top:2px;width:39px;height:32px;background:#849fce"></div><div style="position:absolute;left:2px;top:2px;width:94px;height:32px;background:#abc3ee"></div><div class="c" style="position:absolute;left:6px;top:6px;width:84px;height:26px;color:#0c2060;letter-spacing:0.6px">Expense</div><svg style="position:absolute;left:105px;top:8px" width="20" height="20" viewBox="0 0 20 20"><path d="M3.5 6.8 L9.9 13.3 L16.3 6.8" fill="none" stroke="#5a76ad" stroke-width="2.8" stroke-linecap="round" stroke-linejoin="round"/></svg></div><div style="left:176px;top:0;width:128px;height:36px;background:#abc3ee;border-bottom:2px solid #93acdf;border-top:1px solid #86a0d5;border-left:1px solid #86a0d5"></div><div class="c" style="left:182px;top:6px;width:110px;height:26px;color:#0c2060;letter-spacing:1.419px">7240</div><div style="left:306px;top:0;width:487px;height:36px;background:#abc3ee;border-bottom:2px solid #93acdf;border-top:1px solid #86a0d5;border-left:1px solid #86a0d5"></div><div class="c" style="left:312px;top:6px;width:478px;height:26px;color:#0c2060;letter-spacing:0.651px">Christmas Offering Expense</div><div style="left:793px;top:0;width:41px;height:36px;background:#a3bbe8;border-left:1px solid #8fa8dc;border-bottom:2px solid #93acdf"><div style="position:absolute;left:36px;top:6px;width:2px;height:24px;background:#8fa8dc"></div><svg style="position:absolute;left:5px;top:2px" width="32" height="32" viewBox="0 0 32 32"><polygon points="12.1,17.9 13.9,19.5 8.2,27.8 3.4,26.8" fill="url(#hnds)"/><circle cx="17.2" cy="12.1" r="8.2" fill="url(#lenss)" stroke="url(#rims)" stroke-width="1.3"/></svg></div><div style="left:836px;top:0;width:246px;height:36px;background:#89a3d7"><div style="position:absolute;left:206px;top:2px;width:39px;height:32px;background:#849fce"></div><div style="position:absolute;left:2px;top:2px;width:204px;height:32px;background:#abc3ee"></div><div class="c" style="position:absolute;left:7px;top:6px;width:193px;height:26px;color:#0c2060;letter-spacing:0px"><span style="position:absolute;left:0.0px;top:0;letter-spacing:1.552px;">3200 </span><span style="position:absolute;left:61.3px;top:0;letter-spacing:0px;transform-origin:0.7px 50%;transform:scaleX(1.267);">- </span><span style="position:absolute;left:76.7px;top:0;letter-spacing:0.641px;">Special </span><span style="position:absolute;left:159.1px;top:0;letter-spacing:0.05px;">Fund</span></div><svg style="position:absolute;left:215px;top:8px" width="20" height="20" viewBox="0 0 20 20"><path d="M3.5 6.8 L9.9 13.3 L16.3 6.8" fill="none" stroke="#5a76ad" stroke-width="2.8" stroke-linecap="round" stroke-linejoin="round"/></svg></div><div style="left:1084px;top:0;width:252px;height:36px;background:#89a3d7"><div style="position:absolute;left:212px;top:2px;width:39px;height:32px;background:#849fce"></div><div style="position:absolute;left:2px;top:2px;width:210px;height:32px;background:#abc3ee"></div><div class="c" style="position:absolute;left:7px;top:6px;width:199px;height:26px;color:#0c2060;letter-spacing:0px"><span style="position:absolute;left:-0.3px;top:0;letter-spacing:0px;">T </span><span style="position:absolute;left:19.6px;top:0;letter-spacing:0px;transform-origin:0.7px 50%;transform:scaleX(1.317);">- </span><span style="position:absolute;left:36.5px;top:0;letter-spacing:0.644px;">Designated </span></div><svg style="position:absolute;left:221px;top:8px" width="20" height="20" viewBox="0 0 20 20"><path d="M3.5 6.8 L9.9 13.3 L16.3 6.8" fill="none" stroke="#5a76ad" stroke-width="2.8" stroke-linecap="round" stroke-linejoin="round"/></svg></div><div style="left:1338px;top:0;width:256px;height:36px;background:#89a3d7"><div style="position:absolute;left:216px;top:2px;width:39px;height:32px;background:#849fce"></div><div style="position:absolute;left:2px;top:2px;width:214px;height:32px;background:#abc3ee"></div><svg style="position:absolute;left:225px;top:8px" width="20" height="20" viewBox="0 0 20 20"><path d="M3.5 6.8 L9.9 13.3 L16.3 6.8" fill="none" stroke="#5a76ad" stroke-width="2.8" stroke-linecap="round" stroke-linejoin="round"/></svg></div><div style="left:1596px;top:0;width:26px;height:36px;background:#3461d9"></div><div style="left:1624px;top:0;width:72px;height:36px;background:#3461d9"><div style="position:absolute;left:10px;top:4px;width:28px;height:28px;border-radius:7px;background:#6d96e3"></div></div><div class="ln" style="left:1596px;width:100px;background:#8a8378"></div></div>
<div class="row" style="top:650px"><div class="xc"><svg class="xi" width="18" height="26" viewBox="0 0 18 26" shape-rendering="crispEdges"><g fill="#e8381b"><rect x="2" y="0" width="4" height="2"/><rect x="14" y="0" width="4" height="2"/><rect x="2" y="2" width="6" height="2"/><rect x="12" y="2" width="4" height="2"/><rect x="0" y="4" width="2" height="2"/><rect x="6" y="4" width="2" height="2"/><rect x="12" y="4" width="4" height="2"/><rect x="8" y="6" width="6" height="2"/><rect x="8" y="8" width="6" height="2"/><rect x="8" y="10" width="4" height="2"/><rect x="8" y="12" width="4" height="2"/><rect x="6" y="14" width="4" height="2"/><rect x="6" y="16" width="2" height="2"/><rect x="10" y="16" width="2" height="2"/><rect x="4" y="18" width="4" height="2"/><rect x="10" y="18" width="2" height="2"/><rect x="2" y="20" width="4" height="2"/><rect x="10" y="20" width="2" height="2"/><rect x="16" y="20" width="2" height="2"/><rect x="2" y="22" width="4" height="2"/><rect x="12" y="22" width="6" height="2"/><rect x="0" y="24" width="4" height="2"/><rect x="12" y="24" width="4" height="2"/></g></svg></div><div class="ln" style="width:34px;background:#7a7a7a"></div><div class="ln" style="left:38px;width:1556px;background:#82817f"></div><div style="left:38px;top:0;width:136px;height:36px;background:#89a3d7"><div style="position:absolute;left:96px;top:2px;width:39px;height:32px;background:#849fce"></div><div style="position:absolute;left:2px;top:2px;width:94px;height:32px;background:#abc3ee"></div><div class="c" style="position:absolute;left:6px;top:6px;width:84px;height:26px;color:#0c2060;letter-spacing:0.6px">Expense</div><svg style="position:absolute;left:105px;top:8px" width="20" height="20" viewBox="0 0 20 20"><path d="M3.5 6.8 L9.9 13.3 L16.3 6.8" fill="none" stroke="#5a76ad" stroke-width="2.8" stroke-linecap="round" stroke-linejoin="round"/></svg></div><div style="left:176px;top:0;width:128px;height:36px;background:#abc3ee;border-bottom:2px solid #93acdf;border-top:1px solid #86a0d5;border-left:1px solid #86a0d5"></div><div class="c" style="left:182px;top:6px;width:110px;height:26px;color:#0c2060;letter-spacing:1.419px">7306</div><div style="left:306px;top:0;width:487px;height:36px;background:#abc3ee;border-bottom:2px solid #93acdf;border-top:1px solid #86a0d5;border-left:1px solid #86a0d5"></div><div class="c" style="left:312px;top:6px;width:478px;height:26px;color:#0c2060;letter-spacing:0.578px">Summer Mission Trip</div><div style="left:793px;top:0;width:41px;height:36px;background:#a3bbe8;border-left:1px solid #8fa8dc;border-bottom:2px solid #93acdf"><div style="position:absolute;left:36px;top:6px;width:2px;height:24px;background:#8fa8dc"></div><svg style="position:absolute;left:5px;top:2px" width="32" height="32" viewBox="0 0 32 32"><polygon points="12.1,17.9 13.9,19.5 8.2,27.8 3.4,26.8" fill="url(#hnds)"/><circle cx="17.2" cy="12.1" r="8.2" fill="url(#lenss)" stroke="url(#rims)" stroke-width="1.3"/></svg></div><div style="left:836px;top:0;width:246px;height:36px;background:#89a3d7"><div style="position:absolute;left:206px;top:2px;width:39px;height:32px;background:#849fce"></div><div style="position:absolute;left:2px;top:2px;width:204px;height:32px;background:#abc3ee"></div><div class="c" style="position:absolute;left:7px;top:6px;width:193px;height:26px;color:#0c2060;letter-spacing:0px"><span style="position:absolute;left:0.0px;top:0;letter-spacing:-0.004px;">3110 </span><span style="position:absolute;left:54.6px;top:0;letter-spacing:0px;transform-origin:0.7px 50%;transform:scaleX(1.250);">- </span><span style="position:absolute;left:70.4px;top:0;letter-spacing:0.718px;">Missions </span><span style="position:absolute;left:167.4px;top:0;letter-spacing:0.05px;">Fund</span></div><svg style="position:absolute;left:215px;top:8px" width="20" height="20" viewBox="0 0 20 20"><path d="M3.5 6.8 L9.9 13.3 L16.3 6.8" fill="none" stroke="#5a76ad" stroke-width="2.8" stroke-linecap="round" stroke-linejoin="round"/></svg></div><div style="left:1084px;top:0;width:252px;height:36px;background:#89a3d7"><div style="position:absolute;left:212px;top:2px;width:39px;height:32px;background:#849fce"></div><div style="position:absolute;left:2px;top:2px;width:210px;height:32px;background:#abc3ee"></div><div class="c" style="position:absolute;left:7px;top:6px;width:199px;height:26px;color:#0c2060;letter-spacing:0px"><span style="position:absolute;left:-0.3px;top:0;letter-spacing:0px;">T </span><span style="position:absolute;left:19.6px;top:0;letter-spacing:0px;transform-origin:0.7px 50%;transform:scaleX(1.317);">- </span><span style="position:absolute;left:36.5px;top:0;letter-spacing:0.644px;">Designated </span></div><svg style="position:absolute;left:221px;top:8px" width="20" height="20" viewBox="0 0 20 20"><path d="M3.5 6.8 L9.9 13.3 L16.3 6.8" fill="none" stroke="#5a76ad" stroke-width="2.8" stroke-linecap="round" stroke-linejoin="round"/></svg></div><div style="left:1338px;top:0;width:256px;height:36px;background:#89a3d7"><div style="position:absolute;left:216px;top:2px;width:39px;height:32px;background:#849fce"></div><div style="position:absolute;left:2px;top:2px;width:214px;height:32px;background:#abc3ee"></div><svg style="position:absolute;left:225px;top:8px" width="20" height="20" viewBox="0 0 20 20"><path d="M3.5 6.8 L9.9 13.3 L16.3 6.8" fill="none" stroke="#5a76ad" stroke-width="2.8" stroke-linecap="round" stroke-linejoin="round"/></svg></div><div style="left:1596px;top:0;width:26px;height:36px;background:#3461d9"></div><div style="left:1624px;top:0;width:72px;height:36px;background:#3461d9"><div style="position:absolute;left:10px;top:4px;width:28px;height:28px;border-radius:7px;background:#6d96e3"></div></div><div class="ln" style="left:1596px;width:100px;background:#8a8378"></div></div>
<div class="row" style="top:688px"><div class="xc"><svg class="xi" width="18" height="26" viewBox="0 0 18 26" shape-rendering="crispEdges"><g fill="#e8381b"><rect x="2" y="0" width="4" height="2"/><rect x="14" y="0" width="4" height="2"/><rect x="2" y="2" width="6" height="2"/><rect x="12" y="2" width="4" height="2"/><rect x="0" y="4" width="2" height="2"/><rect x="6" y="4" width="2" height="2"/><rect x="12" y="4" width="4" height="2"/><rect x="8" y="6" width="6" height="2"/><rect x="8" y="8" width="6" height="2"/><rect x="8" y="10" width="4" height="2"/><rect x="8" y="12" width="4" height="2"/><rect x="6" y="14" width="4" height="2"/><rect x="6" y="16" width="2" height="2"/><rect x="10" y="16" width="2" height="2"/><rect x="4" y="18" width="4" height="2"/><rect x="10" y="18" width="2" height="2"/><rect x="2" y="20" width="4" height="2"/><rect x="10" y="20" width="2" height="2"/><rect x="16" y="20" width="2" height="2"/><rect x="2" y="22" width="4" height="2"/><rect x="12" y="22" width="6" height="2"/><rect x="0" y="24" width="4" height="2"/><rect x="12" y="24" width="4" height="2"/></g></svg></div><div class="ln" style="width:34px;background:#7a7a7a"></div><div class="ln" style="left:38px;width:1556px;background:#82817f"></div><div style="left:38px;top:0;width:136px;height:36px;background:#89a3d7"><div style="position:absolute;left:96px;top:2px;width:39px;height:32px;background:#849fce"></div><div style="position:absolute;left:2px;top:2px;width:94px;height:32px;background:#abc3ee"></div><div class="c" style="position:absolute;left:6px;top:6px;width:84px;height:26px;color:#0c2060;letter-spacing:0.6px">Expense</div><svg style="position:absolute;left:105px;top:8px" width="20" height="20" viewBox="0 0 20 20"><path d="M3.5 6.8 L9.9 13.3 L16.3 6.8" fill="none" stroke="#5a76ad" stroke-width="2.8" stroke-linecap="round" stroke-linejoin="round"/></svg></div><div style="left:176px;top:0;width:128px;height:36px;background:#abc3ee;border-bottom:2px solid #93acdf;border-top:1px solid #86a0d5;border-left:1px solid #86a0d5"></div><div class="c" style="left:182px;top:6px;width:110px;height:26px;color:#0c2060;letter-spacing:1.419px">7902</div><div style="left:306px;top:0;width:487px;height:36px;background:#abc3ee;border-bottom:2px solid #93acdf;border-top:1px solid #86a0d5;border-left:1px solid #86a0d5"></div><div class="c" style="left:312px;top:6px;width:478px;height:26px;color:#0c2060;letter-spacing:0.522px">Merchant Fees</div><div style="left:793px;top:0;width:41px;height:36px;background:#a3bbe8;border-left:1px solid #8fa8dc;border-bottom:2px solid #93acdf"><div style="position:absolute;left:36px;top:6px;width:2px;height:24px;background:#8fa8dc"></div><svg style="position:absolute;left:5px;top:2px" width="32" height="32" viewBox="0 0 32 32"><polygon points="12.1,17.9 13.9,19.5 8.2,27.8 3.4,26.8" fill="url(#hnds)"/><circle cx="17.2" cy="12.1" r="8.2" fill="url(#lenss)" stroke="url(#rims)" stroke-width="1.3"/></svg></div><div style="left:836px;top:0;width:246px;height:36px;background:#89a3d7"><div style="position:absolute;left:206px;top:2px;width:39px;height:32px;background:#849fce"></div><div style="position:absolute;left:2px;top:2px;width:204px;height:32px;background:#abc3ee"></div><div class="c" style="position:absolute;left:7px;top:6px;width:193px;height:26px;color:#0c2060;letter-spacing:0px"><span style="position:absolute;left:0.0px;top:0;letter-spacing:1.552px;">3200 </span><span style="position:absolute;left:61.3px;top:0;letter-spacing:0px;transform-origin:0.7px 50%;transform:scaleX(1.267);">- </span><span style="position:absolute;left:76.7px;top:0;letter-spacing:0.641px;">Special </span><span style="position:absolute;left:159.1px;top:0;letter-spacing:0.05px;">Fund</span></div><svg style="position:absolute;left:215px;top:8px" width="20" height="20" viewBox="0 0 20 20"><path d="M3.5 6.8 L9.9 13.3 L16.3 6.8" fill="none" stroke="#5a76ad" stroke-width="2.8" stroke-linecap="round" stroke-linejoin="round"/></svg></div><div style="left:1084px;top:0;width:252px;height:36px;background:#89a3d7"><div style="position:absolute;left:212px;top:2px;width:39px;height:32px;background:#849fce"></div><div style="position:absolute;left:2px;top:2px;width:210px;height:32px;background:#abc3ee"></div><div class="c" style="position:absolute;left:7px;top:6px;width:199px;height:26px;color:#0c2060;letter-spacing:0px"><span style="position:absolute;left:-0.3px;top:0;letter-spacing:0px;">T </span><span style="position:absolute;left:19.6px;top:0;letter-spacing:0px;transform-origin:0.7px 50%;transform:scaleX(1.317);">- </span><span style="position:absolute;left:36.5px;top:0;letter-spacing:0.644px;">Designated </span></div><svg style="position:absolute;left:221px;top:8px" width="20" height="20" viewBox="0 0 20 20"><path d="M3.5 6.8 L9.9 13.3 L16.3 6.8" fill="none" stroke="#5a76ad" stroke-width="2.8" stroke-linecap="round" stroke-linejoin="round"/></svg></div><div style="left:1338px;top:0;width:256px;height:36px;background:#89a3d7"><div style="position:absolute;left:216px;top:2px;width:39px;height:32px;background:#849fce"></div><div style="position:absolute;left:2px;top:2px;width:214px;height:32px;background:#abc3ee"></div><svg style="position:absolute;left:225px;top:8px" width="20" height="20" viewBox="0 0 20 20"><path d="M3.5 6.8 L9.9 13.3 L16.3 6.8" fill="none" stroke="#5a76ad" stroke-width="2.8" stroke-linecap="round" stroke-linejoin="round"/></svg></div><div style="left:1596px;top:0;width:26px;height:36px;background:#3461d9"></div><div style="left:1624px;top:0;width:72px;height:36px;background:#3461d9"><div style="position:absolute;left:10px;top:4px;width:28px;height:28px;border-radius:7px;background:#6d96e3"></div></div><div class="ln" style="left:1596px;width:100px;background:#8a8378"></div></div>
<div style="position:absolute;left:38px;top:42px;width:1556px;height:1px;background:rgba(60,90,165,0.22)"></div>
<div class="vl" style="left:174px;top:0;height:36px"></div>
<div class="vl" style="left:174px;top:40px;height:670px"></div>
<div class="vl" style="left:304px;top:0;height:36px"></div>
<div class="vl" style="left:304px;top:40px;height:670px"></div>
<div class="vl" style="left:834px;top:0;height:36px"></div>
<div class="vl" style="left:834px;top:40px;height:670px"></div>
<div class="vl" style="left:1082px;top:0;height:36px"></div>
<div class="vl" style="left:1082px;top:40px;height:670px"></div>
<div class="vl" style="left:1336px;top:0;height:36px"></div>
<div class="vl" style="left:1336px;top:40px;height:670px"></div>
<div class="vl" style="left:1594px;top:0;height:36px"></div>
<div class="vl" style="left:1594px;top:40px;height:670px"></div>
<div class="vl" style="left:1622px;top:0;height:36px"></div>
<div class="vl" style="left:1622px;top:40px;height:670px"></div>
<div class="vl" style="left:1716px;top:0;height:36px"></div></div></div>
<div class="t" style="left:68px;top:866px;letter-spacing:0.339px;">Show:</div>
<div style="position:absolute;left:140px;top:858px;width:418px;height:40px;background:#f5f5f5;border:2px solid #c2c2c2"></div>
<div style="position:absolute;left:516px;top:862px;width:38px;height:32px;background:#3f78f0"></div>
<svg style="position:absolute;left:525px;top:868px" width="20" height="20" viewBox="0 0 20 20"><path d="M3.2 6.2 L10 12.8 L16.8 6.2" fill="none" stroke="#fff" stroke-width="3" stroke-linecap="round" stroke-linejoin="round"/></svg>
<div class="t" style="left:147px;top:866px;letter-spacing:0.755px;">Active Accounts Only</div>
<div style="position:absolute;left:572px;top:860px;width:108px;height:36px;background:#f0f0f0;border-bottom:2px solid #d2d2d2"><div style="position:absolute;left:104px;top:6px;width:2px;height:22px;background:#d6d6d6"></div></div><div class="t" style="left:607px;top:866px;letter-spacing:-0.073px;color:#000;">Add</div>
<div style="position:absolute;left:690px;top:860px;width:108px;height:36px;background:#f0f0f0;border-bottom:2px solid #d2d2d2"><div style="position:absolute;left:104px;top:6px;width:2px;height:22px;background:#d6d6d6"></div></div><div class="t" style="left:705px;top:866px;letter-spacing:0.187px;color:#000;">Change</div>
<div class="t" style="left:1123px;top:868px;letter-spacing:0.662px;">* Data Entry Default</div>
<div style="position:absolute;left:1544px;top:860px;width:108px;height:36px;background:#f0f0f0;border-bottom:2px solid #d2d2d2"><div style="position:absolute;left:104px;top:6px;width:2px;height:22px;background:#d6d6d6"></div></div><div class="t" style="left:1563px;top:866px;letter-spacing:0.303px;color:#868686;">Cancel</div>
<div style="position:absolute;left:1662px;top:860px;width:108px;height:36px;background:#f0f0f0;border-bottom:2px solid #d2d2d2"><div style="position:absolute;left:104px;top:6px;width:2px;height:22px;background:#d6d6d6"></div></div><div class="t" style="left:1691px;top:866px;letter-spacing:-0.715px;color:#868686;">Save</div>
<div style="position:absolute;left:24px;top:936px;width:328px;height:46px;background:#f0f0f0;border-bottom:2px solid #d0d0d0"></div>
<div style="position:absolute;left:24px;top:936px;width:114px;height:46px;background:#e4e4e4;border:2px solid #d3d3d3;border-top-color:#d8d8d8;border-right:none"><div style="position:absolute;left:110px;top:4px;width:2px;height:34px;background:#cfcfcf"></div></div>
<div style="position:absolute;left:348px;top:942px;width:2px;height:34px;background:#d6d6d6"></div>
<div class="t" style="left:38px;top:948px;letter-spacing:0.517px;">Show All</div>
<div class="t" style="left:151px;top:948px;letter-spacing:0.412px;">Show Find Results</div>
<div class="t" style="left:367px;top:948px;letter-spacing:0.022px;">Find:</div>
<div style="position:absolute;left:428px;top:940px;width:437px;height:38px;background:#fff;border:1px solid #b9b9b9;border-right:none"></div>
<div style="position:absolute;left:864px;top:940px;width:66px;height:40px;background:#efefef;border-bottom:2px solid #cfcfcf"><div style="position:absolute;left:62px;top:6px;width:2px;height:27px;background:#d6d6d6"></div></div>
<div class="t" style="left:875px;top:948px;letter-spacing:-0.266px;">Find</div>
<div style="position:absolute;left:936px;top:924px;width:28px;height:28px;border-radius:8px;background:#fff;border:1px solid #c6c6c6;box-shadow:0 1px 2px rgba(0,0,0,0.10)"></div>
<div class="t" style="left:971px;top:926px;letter-spacing:0.18px;">Leave Open</div>
<div style="position:absolute;left:938px;top:960px;width:28px;height:28px;border-radius:8px;background:#f9f9f9;border:1px solid #e1e1e1"></div>
<div class="t" style="left:973px;top:962px;letter-spacing:0.44px;color:#8b8b8b;">Stay in Front</div>
<div style="position:absolute;left:1129px;top:940px;width:153px;height:41px;background:#fff;border-radius:11px;border:1px solid #e3e3e3;box-shadow:0 1px 1.5px rgba(0,0,0,0.13)"></div><div class="t" style="left:1161px;top:946px;letter-spacing:-0.04px;">Save Set</div>
<div style="position:absolute;left:1297px;top:940px;width:177px;height:41px;background:#fff;border-radius:11px;border:1px solid #e3e3e3;box-shadow:0 1px 1.5px rgba(0,0,0,0.13)"></div><div class="t" style="left:1315px;top:946px;letter-spacing:0.275px;">Load Set</div>
<svg style="position:absolute;left:1428px;top:950px" width="18" height="17" viewBox="0 0 18 17" shape-rendering="crispEdges"><rect x="2" y="0" width="14" height="2" fill="#bdbdbd"/><g fill="#000"><rect x="2" y="2" width="14" height="2"/><rect x="4" y="4" width="10" height="4"/><rect x="6" y="8" width="6" height="2"/><rect x="8" y="10" width="2" height="6"/></g></svg>
<div style="position:absolute;left:1490px;top:940px;width:142px;height:41px;background:#fff;border-radius:11px;border:1px solid #e3e3e3;box-shadow:0 1px 1.5px rgba(0,0,0,0.13)"></div><div class="t" style="left:1533px;top:946px;letter-spacing:0.188px;">Close</div>
<div style="position:absolute;left:1648px;top:940px;width:118px;height:40px;border-radius:11px;background:linear-gradient(#4475e6,#3d6ddf)"></div>
<div class="t" style="left:1693px;top:946px;letter-spacing:-1.786px;color:#fff;text-shadow:0.4px 0 0 #fff;">OK</div>
</div></body></html>
